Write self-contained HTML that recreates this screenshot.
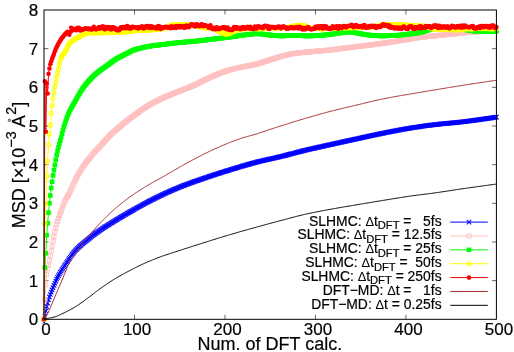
<!DOCTYPE html><html><head><meta charset="utf-8"><style>
html,body{margin:0;padding:0;background:#fff}
body{width:514px;height:352px;position:relative;overflow:hidden;font-family:"Liberation Sans",sans-serif;color:#000}
svg{display:block;will-change:transform}
</style></head><body>
<svg width="514" height="352" viewBox="0 0 514 352" style="position:absolute;left:0;top:0"><defs>
<g id="mb"><path d="M-2.2,-2.2L2.2,2.2M-2.2,2.2L2.2,-2.2" stroke="#0000ff" stroke-width="1.05" fill="none"/></g>
<g id="mp"><rect x="-2.05" y="-2.05" width="4.1" height="4.1" stroke="#ffc0c0" stroke-width="0.9" fill="none"/></g>
<g id="mg"><rect x="-2.3" y="-2.3" width="4.6" height="4.6" fill="#00ff00"/></g>
<g id="my"><circle r="2.0" stroke="#ffff00" stroke-width="1.1" fill="none"/></g>
<g id="mr"><circle r="2.3" fill="#ff0000"/></g>
</defs><path d="M134.48,319.3v-4.5M134.48,10.0v4.5M224.96,319.3v-4.5M224.96,10.0v4.5M315.44,319.3v-4.5M315.44,10.0v4.5M405.92,319.3v-4.5M405.92,10.0v4.5M44.0,280.64h4.5M496.4,280.64h-4.5M44.0,241.98h4.5M496.4,241.98h-4.5M44.0,203.31h4.5M496.4,203.31h-4.5M44.0,164.65h4.5M496.4,164.65h-4.5M44.0,125.99h4.5M496.4,125.99h-4.5M44.0,87.32h4.5M496.4,87.32h-4.5M44.0,48.66h4.5M496.4,48.66h-4.5" stroke="#000" stroke-width="0.6" fill="none"/><clipPath id="cp"><rect x="40.0" y="0" width="460.4" height="323.3"/></clipPath><g clip-path="url(#cp)"><polyline fill="none" stroke="#0000ff" stroke-width="1" points="44,322.45 44.9,316.33 45.81,310.98 46.71,306.61 47.62,302.87 48.52,299.75 49.43,297 50.33,294.5 51.24,292.16 52.14,289.89 53.05,287.63 53.95,285.41 54.86,283.25 55.76,281.17 56.67,279.19 57.57,277.33 58.48,275.61 59.38,273.98 60.29,272.43 61.19,270.95 62.1,269.52 63,268.13 63.91,266.76 64.81,265.41 65.72,264.05 66.62,262.68 67.52,261.31 68.43,259.94 69.33,258.58 70.24,257.24 71.14,255.94 72.05,254.68 72.95,253.47 73.86,252.33 74.76,251.27 75.67,250.27 76.57,249.32 77.48,248.41 78.38,247.53 79.29,246.68 80.19,245.86 81.1,245.06 82,244.28 82.91,243.52 83.81,242.77 84.72,242.03 85.62,241.29 86.53,240.55 87.43,239.81 88.34,239.07 89.24,238.33 90.14,237.61 91.05,236.89 91.95,236.18 92.86,235.48 93.76,234.79 94.67,234.1 95.57,233.43 96.48,232.76 97.38,232.1 98.29,231.46 99.19,230.81 100.1,230.18 101,229.56 101.91,228.95 102.81,228.35 103.72,227.75 104.62,227.17 105.53,226.59 106.43,226.02 107.34,225.45 108.24,224.88 109.15,224.32 110.05,223.76 110.96,223.2 111.86,222.65 112.76,222.09 113.67,221.53 114.57,220.97 115.48,220.42 116.38,219.87 117.29,219.32 118.19,218.77 119.1,218.23 120,217.69 120.91,217.15 121.81,216.61 122.72,216.07 123.62,215.54 124.53,215.01 125.43,214.48 126.34,213.96 127.24,213.44 128.15,212.92 129.05,212.4 129.96,211.88 130.86,211.36 131.77,210.84 132.67,210.33 133.58,209.81 134.48,209.3 135.38,208.79 136.29,208.28 137.19,207.77 138.1,207.26 139,206.75 139.91,206.25 140.81,205.75 141.72,205.25 142.62,204.75 143.53,204.26 144.43,203.77 145.34,203.28 146.24,202.8 147.15,202.32 148.05,201.84 148.96,201.37 149.86,200.9 150.77,200.43 151.67,199.97 152.58,199.51 153.48,199.06 154.39,198.61 155.29,198.16 156.2,197.71 157.1,197.27 158,196.83 158.91,196.39 159.81,195.95 160.72,195.52 161.62,195.08 162.53,194.66 163.43,194.23 164.34,193.8 165.24,193.38 166.15,192.97 167.05,192.55 167.96,192.14 168.86,191.73 169.77,191.32 170.67,190.92 171.58,190.52 172.48,190.13 173.39,189.74 174.29,189.35 175.2,188.97 176.1,188.59 177.01,188.21 177.91,187.84 178.82,187.47 179.72,187.1 180.62,186.74 181.53,186.38 182.43,186.03 183.34,185.68 184.24,185.33 185.15,184.99 186.05,184.64 186.96,184.3 187.86,183.97 188.77,183.63 189.67,183.3 190.58,182.97 191.48,182.64 192.39,182.32 193.29,181.99 194.2,181.67 195.1,181.35 196.01,181.03 196.91,180.71 197.82,180.4 198.72,180.08 199.63,179.77 200.53,179.45 201.44,179.14 202.34,178.83 203.24,178.52 204.15,178.21 205.05,177.9 205.96,177.59 206.86,177.28 207.77,176.98 208.67,176.68 209.58,176.37 210.48,176.07 211.39,175.78 212.29,175.48 213.2,175.18 214.1,174.89 215.01,174.59 215.91,174.3 216.82,174.01 217.72,173.72 218.63,173.43 219.53,173.15 220.44,172.86 221.34,172.57 222.25,172.29 223.15,172.01 224.06,171.72 224.96,171.44 225.86,171.16 226.77,170.88 227.67,170.6 228.58,170.32 229.48,170.04 230.39,169.76 231.29,169.48 232.2,169.21 233.1,168.93 234.01,168.65 234.91,168.37 235.82,168.1 236.72,167.82 237.63,167.54 238.53,167.27 239.44,166.99 240.34,166.72 241.25,166.45 242.15,166.18 243.06,165.91 243.96,165.65 244.87,165.38 245.77,165.12 246.68,164.86 247.58,164.6 248.48,164.34 249.39,164.08 250.29,163.83 251.2,163.58 252.1,163.33 253.01,163.09 253.91,162.85 254.82,162.61 255.72,162.37 256.63,162.14 257.53,161.91 258.44,161.68 259.34,161.46 260.25,161.24 261.15,161.03 262.06,160.82 262.96,160.61 263.87,160.4 264.77,160.19 265.68,159.99 266.58,159.78 267.49,159.58 268.39,159.38 269.3,159.18 270.2,158.98 271.1,158.77 272.01,158.57 272.91,158.37 273.82,158.17 274.72,157.97 275.63,157.76 276.53,157.55 277.44,157.34 278.34,157.13 279.25,156.92 280.15,156.7 281.06,156.49 281.96,156.26 282.87,156.04 283.77,155.81 284.68,155.58 285.58,155.35 286.49,155.12 287.39,154.89 288.3,154.65 289.2,154.42 290.11,154.18 291.01,153.94 291.92,153.7 292.82,153.47 293.72,153.23 294.63,152.99 295.53,152.75 296.44,152.51 297.34,152.28 298.25,152.04 299.15,151.81 300.06,151.58 300.96,151.34 301.87,151.12 302.77,150.89 303.68,150.66 304.58,150.44 305.49,150.22 306.39,150.01 307.3,149.79 308.2,149.58 309.11,149.37 310.01,149.16 310.92,148.95 311.82,148.74 312.73,148.54 313.63,148.33 314.54,148.13 315.44,147.93 316.34,147.72 317.25,147.52 318.15,147.32 319.06,147.12 319.96,146.92 320.87,146.73 321.77,146.53 322.68,146.33 323.58,146.13 324.49,145.93 325.39,145.73 326.3,145.54 327.2,145.34 328.11,145.14 329.01,144.94 329.92,144.74 330.82,144.54 331.73,144.34 332.63,144.14 333.54,143.94 334.44,143.74 335.35,143.54 336.25,143.34 337.16,143.14 338.06,142.94 338.96,142.74 339.87,142.54 340.77,142.34 341.68,142.14 342.58,141.94 343.49,141.74 344.39,141.54 345.3,141.34 346.2,141.14 347.11,140.94 348.01,140.74 348.92,140.54 349.82,140.35 350.73,140.15 351.63,139.95 352.54,139.75 353.44,139.56 354.35,139.36 355.25,139.16 356.16,138.97 357.06,138.77 357.97,138.57 358.87,138.37 359.78,138.18 360.68,137.98 361.58,137.78 362.49,137.58 363.39,137.38 364.3,137.18 365.2,136.98 366.11,136.79 367.01,136.59 367.92,136.39 368.82,136.19 369.73,135.99 370.63,135.8 371.54,135.6 372.44,135.41 373.35,135.21 374.25,135.02 375.16,134.82 376.06,134.63 376.97,134.44 377.87,134.25 378.78,134.06 379.68,133.88 380.59,133.69 381.49,133.5 382.4,133.32 383.3,133.14 384.2,132.96 385.11,132.78 386.01,132.6 386.92,132.42 387.82,132.24 388.73,132.06 389.63,131.89 390.54,131.71 391.44,131.53 392.35,131.35 393.25,131.18 394.16,131 395.06,130.83 395.97,130.66 396.87,130.49 397.78,130.31 398.68,130.15 399.59,129.98 400.49,129.81 401.4,129.65 402.3,129.48 403.21,129.32 404.11,129.16 405.02,129 405.92,128.84 406.82,128.69 407.73,128.54 408.63,128.38 409.54,128.24 410.44,128.09 411.35,127.94 412.25,127.8 413.16,127.66 414.06,127.52 414.97,127.38 415.87,127.24 416.78,127.1 417.68,126.97 418.59,126.83 419.49,126.7 420.4,126.56 421.3,126.43 422.21,126.3 423.11,126.17 424.02,126.04 424.92,125.92 425.83,125.79 426.73,125.67 427.64,125.55 428.54,125.43 429.44,125.31 430.35,125.19 431.25,125.08 432.16,124.96 433.06,124.85 433.97,124.74 434.87,124.63 435.78,124.53 436.68,124.42 437.59,124.32 438.49,124.22 439.4,124.12 440.3,124.03 441.21,123.94 442.11,123.85 443.02,123.76 443.92,123.67 444.83,123.59 445.73,123.5 446.64,123.42 447.54,123.33 448.45,123.25 449.35,123.17 450.26,123.08 451.16,123 452.06,122.92 452.97,122.83 453.87,122.74 454.78,122.66 455.68,122.57 456.59,122.48 457.49,122.38 458.4,122.29 459.3,122.19 460.21,122.09 461.11,121.99 462.02,121.88 462.92,121.78 463.83,121.67 464.73,121.56 465.64,121.45 466.54,121.34 467.45,121.23 468.35,121.12 469.26,121 470.16,120.89 471.07,120.77 471.97,120.66 472.88,120.54 473.78,120.42 474.68,120.3 475.59,120.18 476.49,120.05 477.4,119.93 478.3,119.81 479.21,119.68 480.11,119.55 481.02,119.43 481.92,119.3 482.83,119.17 483.73,119.04 484.64,118.91 485.54,118.77 486.45,118.64 487.35,118.5 488.26,118.37 489.16,118.23 490.07,118.09 490.97,117.95 491.88,117.81 492.78,117.67 493.69,117.53 494.59,117.39 495.5,117.24 496.4,117.1"/><use href="#mb" x="44" y="322.45"/><use href="#mb" x="44.9" y="316.33"/><use href="#mb" x="45.81" y="310.98"/><use href="#mb" x="46.71" y="306.61"/><use href="#mb" x="47.62" y="302.87"/><use href="#mb" x="48.52" y="299.75"/><use href="#mb" x="49.43" y="297"/><use href="#mb" x="50.33" y="294.5"/><use href="#mb" x="51.24" y="292.16"/><use href="#mb" x="52.14" y="289.89"/><use href="#mb" x="53.05" y="287.63"/><use href="#mb" x="53.95" y="285.41"/><use href="#mb" x="54.86" y="283.25"/><use href="#mb" x="55.76" y="281.17"/><use href="#mb" x="56.67" y="279.19"/><use href="#mb" x="57.57" y="277.33"/><use href="#mb" x="58.48" y="275.61"/><use href="#mb" x="59.38" y="273.98"/><use href="#mb" x="60.29" y="272.43"/><use href="#mb" x="61.19" y="270.95"/><use href="#mb" x="62.1" y="269.52"/><use href="#mb" x="63" y="268.13"/><use href="#mb" x="63.91" y="266.76"/><use href="#mb" x="64.81" y="265.41"/><use href="#mb" x="65.72" y="264.05"/><use href="#mb" x="66.62" y="262.68"/><use href="#mb" x="67.52" y="261.31"/><use href="#mb" x="68.43" y="259.94"/><use href="#mb" x="69.33" y="258.58"/><use href="#mb" x="70.24" y="257.24"/><use href="#mb" x="71.14" y="255.94"/><use href="#mb" x="72.05" y="254.68"/><use href="#mb" x="72.95" y="253.47"/><use href="#mb" x="73.86" y="252.33"/><use href="#mb" x="74.76" y="251.27"/><use href="#mb" x="75.67" y="250.27"/><use href="#mb" x="76.57" y="249.32"/><use href="#mb" x="77.48" y="248.41"/><use href="#mb" x="78.38" y="247.53"/><use href="#mb" x="79.29" y="246.68"/><use href="#mb" x="80.19" y="245.86"/><use href="#mb" x="81.1" y="245.06"/><use href="#mb" x="82" y="244.28"/><use href="#mb" x="82.91" y="243.52"/><use href="#mb" x="83.81" y="242.77"/><use href="#mb" x="84.72" y="242.03"/><use href="#mb" x="85.62" y="241.29"/><use href="#mb" x="86.53" y="240.55"/><use href="#mb" x="87.43" y="239.81"/><use href="#mb" x="88.34" y="239.07"/><use href="#mb" x="89.24" y="238.33"/><use href="#mb" x="90.14" y="237.61"/><use href="#mb" x="91.05" y="236.89"/><use href="#mb" x="91.95" y="236.18"/><use href="#mb" x="92.86" y="235.48"/><use href="#mb" x="93.76" y="234.79"/><use href="#mb" x="94.67" y="234.1"/><use href="#mb" x="95.57" y="233.43"/><use href="#mb" x="96.48" y="232.76"/><use href="#mb" x="97.38" y="232.1"/><use href="#mb" x="98.29" y="231.46"/><use href="#mb" x="99.19" y="230.81"/><use href="#mb" x="100.1" y="230.18"/><use href="#mb" x="101" y="229.56"/><use href="#mb" x="101.91" y="228.95"/><use href="#mb" x="102.81" y="228.35"/><use href="#mb" x="103.72" y="227.75"/><use href="#mb" x="104.62" y="227.17"/><use href="#mb" x="105.53" y="226.59"/><use href="#mb" x="106.43" y="226.02"/><use href="#mb" x="107.34" y="225.45"/><use href="#mb" x="108.24" y="224.88"/><use href="#mb" x="109.15" y="224.32"/><use href="#mb" x="110.05" y="223.76"/><use href="#mb" x="110.96" y="223.2"/><use href="#mb" x="111.86" y="222.65"/><use href="#mb" x="112.76" y="222.09"/><use href="#mb" x="113.67" y="221.53"/><use href="#mb" x="114.57" y="220.97"/><use href="#mb" x="115.48" y="220.42"/><use href="#mb" x="116.38" y="219.87"/><use href="#mb" x="117.29" y="219.32"/><use href="#mb" x="118.19" y="218.77"/><use href="#mb" x="119.1" y="218.23"/><use href="#mb" x="120" y="217.69"/><use href="#mb" x="120.91" y="217.15"/><use href="#mb" x="121.81" y="216.61"/><use href="#mb" x="122.72" y="216.07"/><use href="#mb" x="123.62" y="215.54"/><use href="#mb" x="124.53" y="215.01"/><use href="#mb" x="125.43" y="214.48"/><use href="#mb" x="126.34" y="213.96"/><use href="#mb" x="127.24" y="213.44"/><use href="#mb" x="128.15" y="212.92"/><use href="#mb" x="129.05" y="212.4"/><use href="#mb" x="129.96" y="211.88"/><use href="#mb" x="130.86" y="211.36"/><use href="#mb" x="131.77" y="210.84"/><use href="#mb" x="132.67" y="210.33"/><use href="#mb" x="133.58" y="209.81"/><use href="#mb" x="134.48" y="209.3"/><use href="#mb" x="135.38" y="208.79"/><use href="#mb" x="136.29" y="208.28"/><use href="#mb" x="137.19" y="207.77"/><use href="#mb" x="138.1" y="207.26"/><use href="#mb" x="139" y="206.75"/><use href="#mb" x="139.91" y="206.25"/><use href="#mb" x="140.81" y="205.75"/><use href="#mb" x="141.72" y="205.25"/><use href="#mb" x="142.62" y="204.75"/><use href="#mb" x="143.53" y="204.26"/><use href="#mb" x="144.43" y="203.77"/><use href="#mb" x="145.34" y="203.28"/><use href="#mb" x="146.24" y="202.8"/><use href="#mb" x="147.15" y="202.32"/><use href="#mb" x="148.05" y="201.84"/><use href="#mb" x="148.96" y="201.37"/><use href="#mb" x="149.86" y="200.9"/><use href="#mb" x="150.77" y="200.43"/><use href="#mb" x="151.67" y="199.97"/><use href="#mb" x="152.58" y="199.51"/><use href="#mb" x="153.48" y="199.06"/><use href="#mb" x="154.39" y="198.61"/><use href="#mb" x="155.29" y="198.16"/><use href="#mb" x="156.2" y="197.71"/><use href="#mb" x="157.1" y="197.27"/><use href="#mb" x="158" y="196.83"/><use href="#mb" x="158.91" y="196.39"/><use href="#mb" x="159.81" y="195.95"/><use href="#mb" x="160.72" y="195.52"/><use href="#mb" x="161.62" y="195.08"/><use href="#mb" x="162.53" y="194.66"/><use href="#mb" x="163.43" y="194.23"/><use href="#mb" x="164.34" y="193.8"/><use href="#mb" x="165.24" y="193.38"/><use href="#mb" x="166.15" y="192.97"/><use href="#mb" x="167.05" y="192.55"/><use href="#mb" x="167.96" y="192.14"/><use href="#mb" x="168.86" y="191.73"/><use href="#mb" x="169.77" y="191.32"/><use href="#mb" x="170.67" y="190.92"/><use href="#mb" x="171.58" y="190.52"/><use href="#mb" x="172.48" y="190.13"/><use href="#mb" x="173.39" y="189.74"/><use href="#mb" x="174.29" y="189.35"/><use href="#mb" x="175.2" y="188.97"/><use href="#mb" x="176.1" y="188.59"/><use href="#mb" x="177.01" y="188.21"/><use href="#mb" x="177.91" y="187.84"/><use href="#mb" x="178.82" y="187.47"/><use href="#mb" x="179.72" y="187.1"/><use href="#mb" x="180.62" y="186.74"/><use href="#mb" x="181.53" y="186.38"/><use href="#mb" x="182.43" y="186.03"/><use href="#mb" x="183.34" y="185.68"/><use href="#mb" x="184.24" y="185.33"/><use href="#mb" x="185.15" y="184.99"/><use href="#mb" x="186.05" y="184.64"/><use href="#mb" x="186.96" y="184.3"/><use href="#mb" x="187.86" y="183.97"/><use href="#mb" x="188.77" y="183.63"/><use href="#mb" x="189.67" y="183.3"/><use href="#mb" x="190.58" y="182.97"/><use href="#mb" x="191.48" y="182.64"/><use href="#mb" x="192.39" y="182.32"/><use href="#mb" x="193.29" y="181.99"/><use href="#mb" x="194.2" y="181.67"/><use href="#mb" x="195.1" y="181.35"/><use href="#mb" x="196.01" y="181.03"/><use href="#mb" x="196.91" y="180.71"/><use href="#mb" x="197.82" y="180.4"/><use href="#mb" x="198.72" y="180.08"/><use href="#mb" x="199.63" y="179.77"/><use href="#mb" x="200.53" y="179.45"/><use href="#mb" x="201.44" y="179.14"/><use href="#mb" x="202.34" y="178.83"/><use href="#mb" x="203.24" y="178.52"/><use href="#mb" x="204.15" y="178.21"/><use href="#mb" x="205.05" y="177.9"/><use href="#mb" x="205.96" y="177.59"/><use href="#mb" x="206.86" y="177.28"/><use href="#mb" x="207.77" y="176.98"/><use href="#mb" x="208.67" y="176.68"/><use href="#mb" x="209.58" y="176.37"/><use href="#mb" x="210.48" y="176.07"/><use href="#mb" x="211.39" y="175.78"/><use href="#mb" x="212.29" y="175.48"/><use href="#mb" x="213.2" y="175.18"/><use href="#mb" x="214.1" y="174.89"/><use href="#mb" x="215.01" y="174.59"/><use href="#mb" x="215.91" y="174.3"/><use href="#mb" x="216.82" y="174.01"/><use href="#mb" x="217.72" y="173.72"/><use href="#mb" x="218.63" y="173.43"/><use href="#mb" x="219.53" y="173.15"/><use href="#mb" x="220.44" y="172.86"/><use href="#mb" x="221.34" y="172.57"/><use href="#mb" x="222.25" y="172.29"/><use href="#mb" x="223.15" y="172.01"/><use href="#mb" x="224.06" y="171.72"/><use href="#mb" x="224.96" y="171.44"/><use href="#mb" x="225.86" y="171.16"/><use href="#mb" x="226.77" y="170.88"/><use href="#mb" x="227.67" y="170.6"/><use href="#mb" x="228.58" y="170.32"/><use href="#mb" x="229.48" y="170.04"/><use href="#mb" x="230.39" y="169.76"/><use href="#mb" x="231.29" y="169.48"/><use href="#mb" x="232.2" y="169.21"/><use href="#mb" x="233.1" y="168.93"/><use href="#mb" x="234.01" y="168.65"/><use href="#mb" x="234.91" y="168.37"/><use href="#mb" x="235.82" y="168.1"/><use href="#mb" x="236.72" y="167.82"/><use href="#mb" x="237.63" y="167.54"/><use href="#mb" x="238.53" y="167.27"/><use href="#mb" x="239.44" y="166.99"/><use href="#mb" x="240.34" y="166.72"/><use href="#mb" x="241.25" y="166.45"/><use href="#mb" x="242.15" y="166.18"/><use href="#mb" x="243.06" y="165.91"/><use href="#mb" x="243.96" y="165.65"/><use href="#mb" x="244.87" y="165.38"/><use href="#mb" x="245.77" y="165.12"/><use href="#mb" x="246.68" y="164.86"/><use href="#mb" x="247.58" y="164.6"/><use href="#mb" x="248.48" y="164.34"/><use href="#mb" x="249.39" y="164.08"/><use href="#mb" x="250.29" y="163.83"/><use href="#mb" x="251.2" y="163.58"/><use href="#mb" x="252.1" y="163.33"/><use href="#mb" x="253.01" y="163.09"/><use href="#mb" x="253.91" y="162.85"/><use href="#mb" x="254.82" y="162.61"/><use href="#mb" x="255.72" y="162.37"/><use href="#mb" x="256.63" y="162.14"/><use href="#mb" x="257.53" y="161.91"/><use href="#mb" x="258.44" y="161.68"/><use href="#mb" x="259.34" y="161.46"/><use href="#mb" x="260.25" y="161.24"/><use href="#mb" x="261.15" y="161.03"/><use href="#mb" x="262.06" y="160.82"/><use href="#mb" x="262.96" y="160.61"/><use href="#mb" x="263.87" y="160.4"/><use href="#mb" x="264.77" y="160.19"/><use href="#mb" x="265.68" y="159.99"/><use href="#mb" x="266.58" y="159.78"/><use href="#mb" x="267.49" y="159.58"/><use href="#mb" x="268.39" y="159.38"/><use href="#mb" x="269.3" y="159.18"/><use href="#mb" x="270.2" y="158.98"/><use href="#mb" x="271.1" y="158.77"/><use href="#mb" x="272.01" y="158.57"/><use href="#mb" x="272.91" y="158.37"/><use href="#mb" x="273.82" y="158.17"/><use href="#mb" x="274.72" y="157.97"/><use href="#mb" x="275.63" y="157.76"/><use href="#mb" x="276.53" y="157.55"/><use href="#mb" x="277.44" y="157.34"/><use href="#mb" x="278.34" y="157.13"/><use href="#mb" x="279.25" y="156.92"/><use href="#mb" x="280.15" y="156.7"/><use href="#mb" x="281.06" y="156.49"/><use href="#mb" x="281.96" y="156.26"/><use href="#mb" x="282.87" y="156.04"/><use href="#mb" x="283.77" y="155.81"/><use href="#mb" x="284.68" y="155.58"/><use href="#mb" x="285.58" y="155.35"/><use href="#mb" x="286.49" y="155.12"/><use href="#mb" x="287.39" y="154.89"/><use href="#mb" x="288.3" y="154.65"/><use href="#mb" x="289.2" y="154.42"/><use href="#mb" x="290.11" y="154.18"/><use href="#mb" x="291.01" y="153.94"/><use href="#mb" x="291.92" y="153.7"/><use href="#mb" x="292.82" y="153.47"/><use href="#mb" x="293.72" y="153.23"/><use href="#mb" x="294.63" y="152.99"/><use href="#mb" x="295.53" y="152.75"/><use href="#mb" x="296.44" y="152.51"/><use href="#mb" x="297.34" y="152.28"/><use href="#mb" x="298.25" y="152.04"/><use href="#mb" x="299.15" y="151.81"/><use href="#mb" x="300.06" y="151.58"/><use href="#mb" x="300.96" y="151.34"/><use href="#mb" x="301.87" y="151.12"/><use href="#mb" x="302.77" y="150.89"/><use href="#mb" x="303.68" y="150.66"/><use href="#mb" x="304.58" y="150.44"/><use href="#mb" x="305.49" y="150.22"/><use href="#mb" x="306.39" y="150.01"/><use href="#mb" x="307.3" y="149.79"/><use href="#mb" x="308.2" y="149.58"/><use href="#mb" x="309.11" y="149.37"/><use href="#mb" x="310.01" y="149.16"/><use href="#mb" x="310.92" y="148.95"/><use href="#mb" x="311.82" y="148.74"/><use href="#mb" x="312.73" y="148.54"/><use href="#mb" x="313.63" y="148.33"/><use href="#mb" x="314.54" y="148.13"/><use href="#mb" x="315.44" y="147.93"/><use href="#mb" x="316.34" y="147.72"/><use href="#mb" x="317.25" y="147.52"/><use href="#mb" x="318.15" y="147.32"/><use href="#mb" x="319.06" y="147.12"/><use href="#mb" x="319.96" y="146.92"/><use href="#mb" x="320.87" y="146.73"/><use href="#mb" x="321.77" y="146.53"/><use href="#mb" x="322.68" y="146.33"/><use href="#mb" x="323.58" y="146.13"/><use href="#mb" x="324.49" y="145.93"/><use href="#mb" x="325.39" y="145.73"/><use href="#mb" x="326.3" y="145.54"/><use href="#mb" x="327.2" y="145.34"/><use href="#mb" x="328.11" y="145.14"/><use href="#mb" x="329.01" y="144.94"/><use href="#mb" x="329.92" y="144.74"/><use href="#mb" x="330.82" y="144.54"/><use href="#mb" x="331.73" y="144.34"/><use href="#mb" x="332.63" y="144.14"/><use href="#mb" x="333.54" y="143.94"/><use href="#mb" x="334.44" y="143.74"/><use href="#mb" x="335.35" y="143.54"/><use href="#mb" x="336.25" y="143.34"/><use href="#mb" x="337.16" y="143.14"/><use href="#mb" x="338.06" y="142.94"/><use href="#mb" x="338.96" y="142.74"/><use href="#mb" x="339.87" y="142.54"/><use href="#mb" x="340.77" y="142.34"/><use href="#mb" x="341.68" y="142.14"/><use href="#mb" x="342.58" y="141.94"/><use href="#mb" x="343.49" y="141.74"/><use href="#mb" x="344.39" y="141.54"/><use href="#mb" x="345.3" y="141.34"/><use href="#mb" x="346.2" y="141.14"/><use href="#mb" x="347.11" y="140.94"/><use href="#mb" x="348.01" y="140.74"/><use href="#mb" x="348.92" y="140.54"/><use href="#mb" x="349.82" y="140.35"/><use href="#mb" x="350.73" y="140.15"/><use href="#mb" x="351.63" y="139.95"/><use href="#mb" x="352.54" y="139.75"/><use href="#mb" x="353.44" y="139.56"/><use href="#mb" x="354.35" y="139.36"/><use href="#mb" x="355.25" y="139.16"/><use href="#mb" x="356.16" y="138.97"/><use href="#mb" x="357.06" y="138.77"/><use href="#mb" x="357.97" y="138.57"/><use href="#mb" x="358.87" y="138.37"/><use href="#mb" x="359.78" y="138.18"/><use href="#mb" x="360.68" y="137.98"/><use href="#mb" x="361.58" y="137.78"/><use href="#mb" x="362.49" y="137.58"/><use href="#mb" x="363.39" y="137.38"/><use href="#mb" x="364.3" y="137.18"/><use href="#mb" x="365.2" y="136.98"/><use href="#mb" x="366.11" y="136.79"/><use href="#mb" x="367.01" y="136.59"/><use href="#mb" x="367.92" y="136.39"/><use href="#mb" x="368.82" y="136.19"/><use href="#mb" x="369.73" y="135.99"/><use href="#mb" x="370.63" y="135.8"/><use href="#mb" x="371.54" y="135.6"/><use href="#mb" x="372.44" y="135.41"/><use href="#mb" x="373.35" y="135.21"/><use href="#mb" x="374.25" y="135.02"/><use href="#mb" x="375.16" y="134.82"/><use href="#mb" x="376.06" y="134.63"/><use href="#mb" x="376.97" y="134.44"/><use href="#mb" x="377.87" y="134.25"/><use href="#mb" x="378.78" y="134.06"/><use href="#mb" x="379.68" y="133.88"/><use href="#mb" x="380.59" y="133.69"/><use href="#mb" x="381.49" y="133.5"/><use href="#mb" x="382.4" y="133.32"/><use href="#mb" x="383.3" y="133.14"/><use href="#mb" x="384.2" y="132.96"/><use href="#mb" x="385.11" y="132.78"/><use href="#mb" x="386.01" y="132.6"/><use href="#mb" x="386.92" y="132.42"/><use href="#mb" x="387.82" y="132.24"/><use href="#mb" x="388.73" y="132.06"/><use href="#mb" x="389.63" y="131.89"/><use href="#mb" x="390.54" y="131.71"/><use href="#mb" x="391.44" y="131.53"/><use href="#mb" x="392.35" y="131.35"/><use href="#mb" x="393.25" y="131.18"/><use href="#mb" x="394.16" y="131"/><use href="#mb" x="395.06" y="130.83"/><use href="#mb" x="395.97" y="130.66"/><use href="#mb" x="396.87" y="130.49"/><use href="#mb" x="397.78" y="130.31"/><use href="#mb" x="398.68" y="130.15"/><use href="#mb" x="399.59" y="129.98"/><use href="#mb" x="400.49" y="129.81"/><use href="#mb" x="401.4" y="129.65"/><use href="#mb" x="402.3" y="129.48"/><use href="#mb" x="403.21" y="129.32"/><use href="#mb" x="404.11" y="129.16"/><use href="#mb" x="405.02" y="129"/><use href="#mb" x="405.92" y="128.84"/><use href="#mb" x="406.82" y="128.69"/><use href="#mb" x="407.73" y="128.54"/><use href="#mb" x="408.63" y="128.38"/><use href="#mb" x="409.54" y="128.24"/><use href="#mb" x="410.44" y="128.09"/><use href="#mb" x="411.35" y="127.94"/><use href="#mb" x="412.25" y="127.8"/><use href="#mb" x="413.16" y="127.66"/><use href="#mb" x="414.06" y="127.52"/><use href="#mb" x="414.97" y="127.38"/><use href="#mb" x="415.87" y="127.24"/><use href="#mb" x="416.78" y="127.1"/><use href="#mb" x="417.68" y="126.97"/><use href="#mb" x="418.59" y="126.83"/><use href="#mb" x="419.49" y="126.7"/><use href="#mb" x="420.4" y="126.56"/><use href="#mb" x="421.3" y="126.43"/><use href="#mb" x="422.21" y="126.3"/><use href="#mb" x="423.11" y="126.17"/><use href="#mb" x="424.02" y="126.04"/><use href="#mb" x="424.92" y="125.92"/><use href="#mb" x="425.83" y="125.79"/><use href="#mb" x="426.73" y="125.67"/><use href="#mb" x="427.64" y="125.55"/><use href="#mb" x="428.54" y="125.43"/><use href="#mb" x="429.44" y="125.31"/><use href="#mb" x="430.35" y="125.19"/><use href="#mb" x="431.25" y="125.08"/><use href="#mb" x="432.16" y="124.96"/><use href="#mb" x="433.06" y="124.85"/><use href="#mb" x="433.97" y="124.74"/><use href="#mb" x="434.87" y="124.63"/><use href="#mb" x="435.78" y="124.53"/><use href="#mb" x="436.68" y="124.42"/><use href="#mb" x="437.59" y="124.32"/><use href="#mb" x="438.49" y="124.22"/><use href="#mb" x="439.4" y="124.12"/><use href="#mb" x="440.3" y="124.03"/><use href="#mb" x="441.21" y="123.94"/><use href="#mb" x="442.11" y="123.85"/><use href="#mb" x="443.02" y="123.76"/><use href="#mb" x="443.92" y="123.67"/><use href="#mb" x="444.83" y="123.59"/><use href="#mb" x="445.73" y="123.5"/><use href="#mb" x="446.64" y="123.42"/><use href="#mb" x="447.54" y="123.33"/><use href="#mb" x="448.45" y="123.25"/><use href="#mb" x="449.35" y="123.17"/><use href="#mb" x="450.26" y="123.08"/><use href="#mb" x="451.16" y="123"/><use href="#mb" x="452.06" y="122.92"/><use href="#mb" x="452.97" y="122.83"/><use href="#mb" x="453.87" y="122.74"/><use href="#mb" x="454.78" y="122.66"/><use href="#mb" x="455.68" y="122.57"/><use href="#mb" x="456.59" y="122.48"/><use href="#mb" x="457.49" y="122.38"/><use href="#mb" x="458.4" y="122.29"/><use href="#mb" x="459.3" y="122.19"/><use href="#mb" x="460.21" y="122.09"/><use href="#mb" x="461.11" y="121.99"/><use href="#mb" x="462.02" y="121.88"/><use href="#mb" x="462.92" y="121.78"/><use href="#mb" x="463.83" y="121.67"/><use href="#mb" x="464.73" y="121.56"/><use href="#mb" x="465.64" y="121.45"/><use href="#mb" x="466.54" y="121.34"/><use href="#mb" x="467.45" y="121.23"/><use href="#mb" x="468.35" y="121.12"/><use href="#mb" x="469.26" y="121"/><use href="#mb" x="470.16" y="120.89"/><use href="#mb" x="471.07" y="120.77"/><use href="#mb" x="471.97" y="120.66"/><use href="#mb" x="472.88" y="120.54"/><use href="#mb" x="473.78" y="120.42"/><use href="#mb" x="474.68" y="120.3"/><use href="#mb" x="475.59" y="120.18"/><use href="#mb" x="476.49" y="120.05"/><use href="#mb" x="477.4" y="119.93"/><use href="#mb" x="478.3" y="119.81"/><use href="#mb" x="479.21" y="119.68"/><use href="#mb" x="480.11" y="119.55"/><use href="#mb" x="481.02" y="119.43"/><use href="#mb" x="481.92" y="119.3"/><use href="#mb" x="482.83" y="119.17"/><use href="#mb" x="483.73" y="119.04"/><use href="#mb" x="484.64" y="118.91"/><use href="#mb" x="485.54" y="118.77"/><use href="#mb" x="486.45" y="118.64"/><use href="#mb" x="487.35" y="118.5"/><use href="#mb" x="488.26" y="118.37"/><use href="#mb" x="489.16" y="118.23"/><use href="#mb" x="490.07" y="118.09"/><use href="#mb" x="490.97" y="117.95"/><use href="#mb" x="491.88" y="117.81"/><use href="#mb" x="492.78" y="117.67"/><use href="#mb" x="493.69" y="117.53"/><use href="#mb" x="494.59" y="117.39"/><use href="#mb" x="495.5" y="117.24"/><use href="#mb" x="496.4" y="117.1"/><polyline fill="none" stroke="#ffc0c0" stroke-width="1" points="44,319.2 44.9,299.91 45.81,284.87 46.71,274.27 47.62,268.68 48.52,265.03 49.43,260.61 50.33,255.88 51.24,251.06 52.14,246.12 53.05,241.14 53.95,236.5 54.86,232.1 55.76,227.98 56.67,224.38 57.57,221.22 58.48,218.34 59.38,215.66 60.29,213.1 61.19,210.59 62.1,208.14 63,205.79 63.91,203.56 64.81,201.48 65.72,199.57 66.62,197.9 67.52,196.37 68.43,194.82 69.33,193.08 70.24,191.17 71.14,189.2 72.05,187.26 72.95,185.31 73.86,183.33 74.76,181.35 75.67,179.41 76.57,177.55 77.48,175.81 78.38,174.19 79.29,172.64 80.19,171.14 81.1,169.7 82,168.3 82.91,166.95 83.81,165.63 84.72,164.35 85.62,163.1 86.53,161.87 87.43,160.67 88.34,159.51 89.24,158.36 90.14,157.25 91.05,156.15 91.95,155.08 92.86,154.02 93.76,152.98 94.67,151.95 95.57,150.94 96.48,149.95 97.38,148.99 98.29,148.06 99.19,147.14 100.1,146.21 101,145.24 101.91,144.25 102.81,143.23 103.72,142.21 104.62,141.18 105.53,140.16 106.43,139.16 107.34,138.2 108.24,137.26 109.15,136.34 110.05,135.43 110.96,134.53 111.86,133.65 112.76,132.79 113.67,131.95 114.57,131.13 115.48,130.32 116.38,129.53 117.29,128.74 118.19,127.97 119.1,127.21 120,126.45 120.91,125.69 121.81,124.94 122.72,124.2 123.62,123.46 124.53,122.72 125.43,122 126.34,121.28 127.24,120.57 128.15,119.86 129.05,119.17 129.96,118.49 130.86,117.82 131.77,117.16 132.67,116.51 133.58,115.86 134.48,115.21 135.38,114.55 136.29,113.9 137.19,113.23 138.1,112.55 139,111.86 139.91,111.17 140.81,110.49 141.72,109.84 142.62,109.22 143.53,108.62 144.43,108.02 145.34,107.44 146.24,106.86 147.15,106.3 148.05,105.74 148.96,105.2 149.86,104.66 150.77,104.13 151.67,103.62 152.58,103.11 153.48,102.61 154.39,102.13 155.29,101.65 156.2,101.18 157.1,100.72 158,100.27 158.91,99.83 159.81,99.4 160.72,98.97 161.62,98.55 162.53,98.14 163.43,97.73 164.34,97.33 165.24,96.93 166.15,96.54 167.05,96.14 167.96,95.75 168.86,95.37 169.77,95 170.67,94.63 171.58,94.26 172.48,93.9 173.39,93.55 174.29,93.19 175.2,92.84 176.1,92.49 177.01,92.13 177.91,91.78 178.82,91.42 179.72,91.06 180.62,90.7 181.53,90.34 182.43,89.99 183.34,89.64 184.24,89.29 185.15,88.94 186.05,88.59 186.96,88.24 187.86,87.88 188.77,87.52 189.67,87.16 190.58,86.78 191.48,86.4 192.39,86.02 193.29,85.62 194.2,85.21 195.1,84.78 196.01,84.33 196.91,83.86 197.82,83.38 198.72,82.9 199.63,82.42 200.53,81.94 201.44,81.48 202.34,81.03 203.24,80.59 204.15,80.16 205.05,79.73 205.96,79.3 206.86,78.88 207.77,78.46 208.67,78.05 209.58,77.64 210.48,77.23 211.39,76.83 212.29,76.44 213.2,76.05 214.1,75.67 215.01,75.3 215.91,74.93 216.82,74.55 217.72,74.18 218.63,73.82 219.53,73.45 220.44,73.1 221.34,72.75 222.25,72.4 223.15,72.06 224.06,71.74 224.96,71.42 225.86,71.12 226.77,70.83 227.67,70.55 228.58,70.28 229.48,70.02 230.39,69.77 231.29,69.53 232.2,69.29 233.1,69.06 234.01,68.84 234.91,68.62 235.82,68.4 236.72,68.19 237.63,67.98 238.53,67.78 239.44,67.57 240.34,67.38 241.25,67.18 242.15,67 243.06,66.82 243.96,66.65 244.87,66.48 245.77,66.32 246.68,66.15 247.58,65.99 248.48,65.82 249.39,65.66 250.29,65.48 251.2,65.3 252.1,65.12 253.01,64.92 253.91,64.72 254.82,64.5 255.72,64.28 256.63,64.04 257.53,63.79 258.44,63.54 259.34,63.28 260.25,63.01 261.15,62.72 262.06,62.42 262.96,62.13 263.87,61.83 264.77,61.53 265.68,61.24 266.58,60.95 267.49,60.66 268.39,60.38 269.3,60.09 270.2,59.81 271.1,59.52 272.01,59.22 272.91,58.93 273.82,58.64 274.72,58.35 275.63,58.07 276.53,57.78 277.44,57.51 278.34,57.23 279.25,56.97 280.15,56.71 281.06,56.46 281.96,56.21 282.87,55.96 283.77,55.72 284.68,55.47 285.58,55.23 286.49,54.99 287.39,54.77 288.3,54.55 289.2,54.34 290.11,54.15 291.01,53.97 291.92,53.81 292.82,53.67 293.72,53.53 294.63,53.4 295.53,53.28 296.44,53.16 297.34,53.04 298.25,52.93 299.15,52.83 300.06,52.73 300.96,52.65 301.87,52.57 302.77,52.49 303.68,52.41 304.58,52.33 305.49,52.24 306.39,52.16 307.3,52.07 308.2,51.99 309.11,51.91 310.01,51.83 310.92,51.75 311.82,51.67 312.73,51.6 313.63,51.52 314.54,51.44 315.44,51.37 316.34,51.29 317.25,51.21 318.15,51.13 319.06,51.06 319.96,50.98 320.87,50.89 321.77,50.81 322.68,50.73 323.58,50.64 324.49,50.55 325.39,50.46 326.3,50.37 327.2,50.27 328.11,50.17 329.01,50.07 329.92,49.96 330.82,49.85 331.73,49.74 332.63,49.63 333.54,49.52 334.44,49.41 335.35,49.29 336.25,49.18 337.16,49.06 338.06,48.95 338.96,48.83 339.87,48.72 340.77,48.61 341.68,48.5 342.58,48.39 343.49,48.28 344.39,48.17 345.3,48.06 346.2,47.94 347.11,47.83 348.01,47.72 348.92,47.61 349.82,47.5 350.73,47.39 351.63,47.28 352.54,47.17 353.44,47.06 354.35,46.95 355.25,46.84 356.16,46.72 357.06,46.61 357.97,46.5 358.87,46.39 359.78,46.28 360.68,46.17 361.58,46.06 362.49,45.95 363.39,45.84 364.3,45.73 365.2,45.62 366.11,45.51 367.01,45.39 367.92,45.28 368.82,45.17 369.73,45.05 370.63,44.94 371.54,44.82 372.44,44.7 373.35,44.58 374.25,44.46 375.16,44.34 376.06,44.22 376.97,44.1 377.87,43.98 378.78,43.86 379.68,43.74 380.59,43.61 381.49,43.49 382.4,43.36 383.3,43.24 384.2,43.11 385.11,42.98 386.01,42.85 386.92,42.72 387.82,42.59 388.73,42.46 389.63,42.33 390.54,42.19 391.44,42.05 392.35,41.91 393.25,41.77 394.16,41.63 395.06,41.49 395.97,41.34 396.87,41.19 397.78,41.05 398.68,40.9 399.59,40.75 400.49,40.6 401.4,40.45 402.3,40.3 403.21,40.15 404.11,40 405.02,39.85 405.92,39.71 406.82,39.56 407.73,39.4 408.63,39.25 409.54,39.09 410.44,38.93 411.35,38.77 412.25,38.61 413.16,38.45 414.06,38.29 414.97,38.14 415.87,37.99 416.78,37.84 417.68,37.7 418.59,37.57 419.49,37.45 420.4,37.33 421.3,37.21 422.21,37.1 423.11,37 424.02,36.9 424.92,36.8 425.83,36.7 426.73,36.61 427.64,36.51 428.54,36.42 429.44,36.33 430.35,36.24 431.25,36.15 432.16,36.07 433.06,35.98 433.97,35.89 434.87,35.8 435.78,35.71 436.68,35.62 437.59,35.53 438.49,35.44 439.4,35.35 440.3,35.26 441.21,35.17 442.11,35.08 443.02,35 443.92,34.91 444.83,34.82 445.73,34.73 446.64,34.65 447.54,34.56 448.45,34.47 449.35,34.38 450.26,34.3 451.16,34.21 452.06,34.12 452.97,34.02 453.87,33.93 454.78,33.84 455.68,33.74 456.59,33.64 457.49,33.54 458.4,33.44 459.3,33.34 460.21,33.24 461.11,33.13 462.02,33.04 462.92,32.94 463.83,32.84 464.73,32.75 465.64,32.67 466.54,32.58 467.45,32.5 468.35,32.42 469.26,32.34 470.16,32.26 471.07,32.19 471.97,32.11 472.88,32.04 473.78,31.96 474.68,31.89 475.59,31.82 476.49,31.75 477.4,31.68 478.3,31.61 479.21,31.55 480.11,31.48 481.02,31.41 481.92,31.35 482.83,31.29 483.73,31.22 484.64,31.16 485.54,31.1 486.45,31.03 487.35,30.97 488.26,30.91 489.16,30.85 490.07,30.79 490.97,30.74 491.88,30.68 492.78,30.62 493.69,30.57 494.59,30.51 495.5,30.46 496.4,30.41"/><use href="#mp" x="44" y="319.2"/><use href="#mp" x="44.9" y="299.91"/><use href="#mp" x="45.81" y="284.87"/><use href="#mp" x="46.71" y="274.27"/><use href="#mp" x="47.62" y="268.68"/><use href="#mp" x="48.52" y="265.03"/><use href="#mp" x="49.43" y="260.61"/><use href="#mp" x="50.33" y="255.88"/><use href="#mp" x="51.24" y="251.06"/><use href="#mp" x="52.14" y="246.12"/><use href="#mp" x="53.05" y="241.14"/><use href="#mp" x="53.95" y="236.5"/><use href="#mp" x="54.86" y="232.1"/><use href="#mp" x="55.76" y="227.98"/><use href="#mp" x="56.67" y="224.38"/><use href="#mp" x="57.57" y="221.22"/><use href="#mp" x="58.48" y="218.34"/><use href="#mp" x="59.38" y="215.66"/><use href="#mp" x="60.29" y="213.1"/><use href="#mp" x="61.19" y="210.59"/><use href="#mp" x="62.1" y="208.14"/><use href="#mp" x="63" y="205.79"/><use href="#mp" x="63.91" y="203.56"/><use href="#mp" x="64.81" y="201.48"/><use href="#mp" x="65.72" y="199.57"/><use href="#mp" x="66.62" y="197.9"/><use href="#mp" x="67.52" y="196.37"/><use href="#mp" x="68.43" y="194.82"/><use href="#mp" x="69.33" y="193.08"/><use href="#mp" x="70.24" y="191.17"/><use href="#mp" x="71.14" y="189.2"/><use href="#mp" x="72.05" y="187.26"/><use href="#mp" x="72.95" y="185.31"/><use href="#mp" x="73.86" y="183.33"/><use href="#mp" x="74.76" y="181.35"/><use href="#mp" x="75.67" y="179.41"/><use href="#mp" x="76.57" y="177.55"/><use href="#mp" x="77.48" y="175.81"/><use href="#mp" x="78.38" y="174.19"/><use href="#mp" x="79.29" y="172.64"/><use href="#mp" x="80.19" y="171.14"/><use href="#mp" x="81.1" y="169.7"/><use href="#mp" x="82" y="168.3"/><use href="#mp" x="82.91" y="166.95"/><use href="#mp" x="83.81" y="165.63"/><use href="#mp" x="84.72" y="164.35"/><use href="#mp" x="85.62" y="163.1"/><use href="#mp" x="86.53" y="161.87"/><use href="#mp" x="87.43" y="160.67"/><use href="#mp" x="88.34" y="159.51"/><use href="#mp" x="89.24" y="158.36"/><use href="#mp" x="90.14" y="157.25"/><use href="#mp" x="91.05" y="156.15"/><use href="#mp" x="91.95" y="155.08"/><use href="#mp" x="92.86" y="154.02"/><use href="#mp" x="93.76" y="152.98"/><use href="#mp" x="94.67" y="151.95"/><use href="#mp" x="95.57" y="150.94"/><use href="#mp" x="96.48" y="149.95"/><use href="#mp" x="97.38" y="148.99"/><use href="#mp" x="98.29" y="148.06"/><use href="#mp" x="99.19" y="147.14"/><use href="#mp" x="100.1" y="146.21"/><use href="#mp" x="101" y="145.24"/><use href="#mp" x="101.91" y="144.25"/><use href="#mp" x="102.81" y="143.23"/><use href="#mp" x="103.72" y="142.21"/><use href="#mp" x="104.62" y="141.18"/><use href="#mp" x="105.53" y="140.16"/><use href="#mp" x="106.43" y="139.16"/><use href="#mp" x="107.34" y="138.2"/><use href="#mp" x="108.24" y="137.26"/><use href="#mp" x="109.15" y="136.34"/><use href="#mp" x="110.05" y="135.43"/><use href="#mp" x="110.96" y="134.53"/><use href="#mp" x="111.86" y="133.65"/><use href="#mp" x="112.76" y="132.79"/><use href="#mp" x="113.67" y="131.95"/><use href="#mp" x="114.57" y="131.13"/><use href="#mp" x="115.48" y="130.32"/><use href="#mp" x="116.38" y="129.53"/><use href="#mp" x="117.29" y="128.74"/><use href="#mp" x="118.19" y="127.97"/><use href="#mp" x="119.1" y="127.21"/><use href="#mp" x="120" y="126.45"/><use href="#mp" x="120.91" y="125.69"/><use href="#mp" x="121.81" y="124.94"/><use href="#mp" x="122.72" y="124.2"/><use href="#mp" x="123.62" y="123.46"/><use href="#mp" x="124.53" y="122.72"/><use href="#mp" x="125.43" y="122"/><use href="#mp" x="126.34" y="121.28"/><use href="#mp" x="127.24" y="120.57"/><use href="#mp" x="128.15" y="119.86"/><use href="#mp" x="129.05" y="119.17"/><use href="#mp" x="129.96" y="118.49"/><use href="#mp" x="130.86" y="117.82"/><use href="#mp" x="131.77" y="117.16"/><use href="#mp" x="132.67" y="116.51"/><use href="#mp" x="133.58" y="115.86"/><use href="#mp" x="134.48" y="115.21"/><use href="#mp" x="135.38" y="114.55"/><use href="#mp" x="136.29" y="113.9"/><use href="#mp" x="137.19" y="113.23"/><use href="#mp" x="138.1" y="112.55"/><use href="#mp" x="139" y="111.86"/><use href="#mp" x="139.91" y="111.17"/><use href="#mp" x="140.81" y="110.49"/><use href="#mp" x="141.72" y="109.84"/><use href="#mp" x="142.62" y="109.22"/><use href="#mp" x="143.53" y="108.62"/><use href="#mp" x="144.43" y="108.02"/><use href="#mp" x="145.34" y="107.44"/><use href="#mp" x="146.24" y="106.86"/><use href="#mp" x="147.15" y="106.3"/><use href="#mp" x="148.05" y="105.74"/><use href="#mp" x="148.96" y="105.2"/><use href="#mp" x="149.86" y="104.66"/><use href="#mp" x="150.77" y="104.13"/><use href="#mp" x="151.67" y="103.62"/><use href="#mp" x="152.58" y="103.11"/><use href="#mp" x="153.48" y="102.61"/><use href="#mp" x="154.39" y="102.13"/><use href="#mp" x="155.29" y="101.65"/><use href="#mp" x="156.2" y="101.18"/><use href="#mp" x="157.1" y="100.72"/><use href="#mp" x="158" y="100.27"/><use href="#mp" x="158.91" y="99.83"/><use href="#mp" x="159.81" y="99.4"/><use href="#mp" x="160.72" y="98.97"/><use href="#mp" x="161.62" y="98.55"/><use href="#mp" x="162.53" y="98.14"/><use href="#mp" x="163.43" y="97.73"/><use href="#mp" x="164.34" y="97.33"/><use href="#mp" x="165.24" y="96.93"/><use href="#mp" x="166.15" y="96.54"/><use href="#mp" x="167.05" y="96.14"/><use href="#mp" x="167.96" y="95.75"/><use href="#mp" x="168.86" y="95.37"/><use href="#mp" x="169.77" y="95"/><use href="#mp" x="170.67" y="94.63"/><use href="#mp" x="171.58" y="94.26"/><use href="#mp" x="172.48" y="93.9"/><use href="#mp" x="173.39" y="93.55"/><use href="#mp" x="174.29" y="93.19"/><use href="#mp" x="175.2" y="92.84"/><use href="#mp" x="176.1" y="92.49"/><use href="#mp" x="177.01" y="92.13"/><use href="#mp" x="177.91" y="91.78"/><use href="#mp" x="178.82" y="91.42"/><use href="#mp" x="179.72" y="91.06"/><use href="#mp" x="180.62" y="90.7"/><use href="#mp" x="181.53" y="90.34"/><use href="#mp" x="182.43" y="89.99"/><use href="#mp" x="183.34" y="89.64"/><use href="#mp" x="184.24" y="89.29"/><use href="#mp" x="185.15" y="88.94"/><use href="#mp" x="186.05" y="88.59"/><use href="#mp" x="186.96" y="88.24"/><use href="#mp" x="187.86" y="87.88"/><use href="#mp" x="188.77" y="87.52"/><use href="#mp" x="189.67" y="87.16"/><use href="#mp" x="190.58" y="86.78"/><use href="#mp" x="191.48" y="86.4"/><use href="#mp" x="192.39" y="86.02"/><use href="#mp" x="193.29" y="85.62"/><use href="#mp" x="194.2" y="85.21"/><use href="#mp" x="195.1" y="84.78"/><use href="#mp" x="196.01" y="84.33"/><use href="#mp" x="196.91" y="83.86"/><use href="#mp" x="197.82" y="83.38"/><use href="#mp" x="198.72" y="82.9"/><use href="#mp" x="199.63" y="82.42"/><use href="#mp" x="200.53" y="81.94"/><use href="#mp" x="201.44" y="81.48"/><use href="#mp" x="202.34" y="81.03"/><use href="#mp" x="203.24" y="80.59"/><use href="#mp" x="204.15" y="80.16"/><use href="#mp" x="205.05" y="79.73"/><use href="#mp" x="205.96" y="79.3"/><use href="#mp" x="206.86" y="78.88"/><use href="#mp" x="207.77" y="78.46"/><use href="#mp" x="208.67" y="78.05"/><use href="#mp" x="209.58" y="77.64"/><use href="#mp" x="210.48" y="77.23"/><use href="#mp" x="211.39" y="76.83"/><use href="#mp" x="212.29" y="76.44"/><use href="#mp" x="213.2" y="76.05"/><use href="#mp" x="214.1" y="75.67"/><use href="#mp" x="215.01" y="75.3"/><use href="#mp" x="215.91" y="74.93"/><use href="#mp" x="216.82" y="74.55"/><use href="#mp" x="217.72" y="74.18"/><use href="#mp" x="218.63" y="73.82"/><use href="#mp" x="219.53" y="73.45"/><use href="#mp" x="220.44" y="73.1"/><use href="#mp" x="221.34" y="72.75"/><use href="#mp" x="222.25" y="72.4"/><use href="#mp" x="223.15" y="72.06"/><use href="#mp" x="224.06" y="71.74"/><use href="#mp" x="224.96" y="71.42"/><use href="#mp" x="225.86" y="71.12"/><use href="#mp" x="226.77" y="70.83"/><use href="#mp" x="227.67" y="70.55"/><use href="#mp" x="228.58" y="70.28"/><use href="#mp" x="229.48" y="70.02"/><use href="#mp" x="230.39" y="69.77"/><use href="#mp" x="231.29" y="69.53"/><use href="#mp" x="232.2" y="69.29"/><use href="#mp" x="233.1" y="69.06"/><use href="#mp" x="234.01" y="68.84"/><use href="#mp" x="234.91" y="68.62"/><use href="#mp" x="235.82" y="68.4"/><use href="#mp" x="236.72" y="68.19"/><use href="#mp" x="237.63" y="67.98"/><use href="#mp" x="238.53" y="67.78"/><use href="#mp" x="239.44" y="67.57"/><use href="#mp" x="240.34" y="67.38"/><use href="#mp" x="241.25" y="67.18"/><use href="#mp" x="242.15" y="67"/><use href="#mp" x="243.06" y="66.82"/><use href="#mp" x="243.96" y="66.65"/><use href="#mp" x="244.87" y="66.48"/><use href="#mp" x="245.77" y="66.32"/><use href="#mp" x="246.68" y="66.15"/><use href="#mp" x="247.58" y="65.99"/><use href="#mp" x="248.48" y="65.82"/><use href="#mp" x="249.39" y="65.66"/><use href="#mp" x="250.29" y="65.48"/><use href="#mp" x="251.2" y="65.3"/><use href="#mp" x="252.1" y="65.12"/><use href="#mp" x="253.01" y="64.92"/><use href="#mp" x="253.91" y="64.72"/><use href="#mp" x="254.82" y="64.5"/><use href="#mp" x="255.72" y="64.28"/><use href="#mp" x="256.63" y="64.04"/><use href="#mp" x="257.53" y="63.79"/><use href="#mp" x="258.44" y="63.54"/><use href="#mp" x="259.34" y="63.28"/><use href="#mp" x="260.25" y="63.01"/><use href="#mp" x="261.15" y="62.72"/><use href="#mp" x="262.06" y="62.42"/><use href="#mp" x="262.96" y="62.13"/><use href="#mp" x="263.87" y="61.83"/><use href="#mp" x="264.77" y="61.53"/><use href="#mp" x="265.68" y="61.24"/><use href="#mp" x="266.58" y="60.95"/><use href="#mp" x="267.49" y="60.66"/><use href="#mp" x="268.39" y="60.38"/><use href="#mp" x="269.3" y="60.09"/><use href="#mp" x="270.2" y="59.81"/><use href="#mp" x="271.1" y="59.52"/><use href="#mp" x="272.01" y="59.22"/><use href="#mp" x="272.91" y="58.93"/><use href="#mp" x="273.82" y="58.64"/><use href="#mp" x="274.72" y="58.35"/><use href="#mp" x="275.63" y="58.07"/><use href="#mp" x="276.53" y="57.78"/><use href="#mp" x="277.44" y="57.51"/><use href="#mp" x="278.34" y="57.23"/><use href="#mp" x="279.25" y="56.97"/><use href="#mp" x="280.15" y="56.71"/><use href="#mp" x="281.06" y="56.46"/><use href="#mp" x="281.96" y="56.21"/><use href="#mp" x="282.87" y="55.96"/><use href="#mp" x="283.77" y="55.72"/><use href="#mp" x="284.68" y="55.47"/><use href="#mp" x="285.58" y="55.23"/><use href="#mp" x="286.49" y="54.99"/><use href="#mp" x="287.39" y="54.77"/><use href="#mp" x="288.3" y="54.55"/><use href="#mp" x="289.2" y="54.34"/><use href="#mp" x="290.11" y="54.15"/><use href="#mp" x="291.01" y="53.97"/><use href="#mp" x="291.92" y="53.81"/><use href="#mp" x="292.82" y="53.67"/><use href="#mp" x="293.72" y="53.53"/><use href="#mp" x="294.63" y="53.4"/><use href="#mp" x="295.53" y="53.28"/><use href="#mp" x="296.44" y="53.16"/><use href="#mp" x="297.34" y="53.04"/><use href="#mp" x="298.25" y="52.93"/><use href="#mp" x="299.15" y="52.83"/><use href="#mp" x="300.06" y="52.73"/><use href="#mp" x="300.96" y="52.65"/><use href="#mp" x="301.87" y="52.57"/><use href="#mp" x="302.77" y="52.49"/><use href="#mp" x="303.68" y="52.41"/><use href="#mp" x="304.58" y="52.33"/><use href="#mp" x="305.49" y="52.24"/><use href="#mp" x="306.39" y="52.16"/><use href="#mp" x="307.3" y="52.07"/><use href="#mp" x="308.2" y="51.99"/><use href="#mp" x="309.11" y="51.91"/><use href="#mp" x="310.01" y="51.83"/><use href="#mp" x="310.92" y="51.75"/><use href="#mp" x="311.82" y="51.67"/><use href="#mp" x="312.73" y="51.6"/><use href="#mp" x="313.63" y="51.52"/><use href="#mp" x="314.54" y="51.44"/><use href="#mp" x="315.44" y="51.37"/><use href="#mp" x="316.34" y="51.29"/><use href="#mp" x="317.25" y="51.21"/><use href="#mp" x="318.15" y="51.13"/><use href="#mp" x="319.06" y="51.06"/><use href="#mp" x="319.96" y="50.98"/><use href="#mp" x="320.87" y="50.89"/><use href="#mp" x="321.77" y="50.81"/><use href="#mp" x="322.68" y="50.73"/><use href="#mp" x="323.58" y="50.64"/><use href="#mp" x="324.49" y="50.55"/><use href="#mp" x="325.39" y="50.46"/><use href="#mp" x="326.3" y="50.37"/><use href="#mp" x="327.2" y="50.27"/><use href="#mp" x="328.11" y="50.17"/><use href="#mp" x="329.01" y="50.07"/><use href="#mp" x="329.92" y="49.96"/><use href="#mp" x="330.82" y="49.85"/><use href="#mp" x="331.73" y="49.74"/><use href="#mp" x="332.63" y="49.63"/><use href="#mp" x="333.54" y="49.52"/><use href="#mp" x="334.44" y="49.41"/><use href="#mp" x="335.35" y="49.29"/><use href="#mp" x="336.25" y="49.18"/><use href="#mp" x="337.16" y="49.06"/><use href="#mp" x="338.06" y="48.95"/><use href="#mp" x="338.96" y="48.83"/><use href="#mp" x="339.87" y="48.72"/><use href="#mp" x="340.77" y="48.61"/><use href="#mp" x="341.68" y="48.5"/><use href="#mp" x="342.58" y="48.39"/><use href="#mp" x="343.49" y="48.28"/><use href="#mp" x="344.39" y="48.17"/><use href="#mp" x="345.3" y="48.06"/><use href="#mp" x="346.2" y="47.94"/><use href="#mp" x="347.11" y="47.83"/><use href="#mp" x="348.01" y="47.72"/><use href="#mp" x="348.92" y="47.61"/><use href="#mp" x="349.82" y="47.5"/><use href="#mp" x="350.73" y="47.39"/><use href="#mp" x="351.63" y="47.28"/><use href="#mp" x="352.54" y="47.17"/><use href="#mp" x="353.44" y="47.06"/><use href="#mp" x="354.35" y="46.95"/><use href="#mp" x="355.25" y="46.84"/><use href="#mp" x="356.16" y="46.72"/><use href="#mp" x="357.06" y="46.61"/><use href="#mp" x="357.97" y="46.5"/><use href="#mp" x="358.87" y="46.39"/><use href="#mp" x="359.78" y="46.28"/><use href="#mp" x="360.68" y="46.17"/><use href="#mp" x="361.58" y="46.06"/><use href="#mp" x="362.49" y="45.95"/><use href="#mp" x="363.39" y="45.84"/><use href="#mp" x="364.3" y="45.73"/><use href="#mp" x="365.2" y="45.62"/><use href="#mp" x="366.11" y="45.51"/><use href="#mp" x="367.01" y="45.39"/><use href="#mp" x="367.92" y="45.28"/><use href="#mp" x="368.82" y="45.17"/><use href="#mp" x="369.73" y="45.05"/><use href="#mp" x="370.63" y="44.94"/><use href="#mp" x="371.54" y="44.82"/><use href="#mp" x="372.44" y="44.7"/><use href="#mp" x="373.35" y="44.58"/><use href="#mp" x="374.25" y="44.46"/><use href="#mp" x="375.16" y="44.34"/><use href="#mp" x="376.06" y="44.22"/><use href="#mp" x="376.97" y="44.1"/><use href="#mp" x="377.87" y="43.98"/><use href="#mp" x="378.78" y="43.86"/><use href="#mp" x="379.68" y="43.74"/><use href="#mp" x="380.59" y="43.61"/><use href="#mp" x="381.49" y="43.49"/><use href="#mp" x="382.4" y="43.36"/><use href="#mp" x="383.3" y="43.24"/><use href="#mp" x="384.2" y="43.11"/><use href="#mp" x="385.11" y="42.98"/><use href="#mp" x="386.01" y="42.85"/><use href="#mp" x="386.92" y="42.72"/><use href="#mp" x="387.82" y="42.59"/><use href="#mp" x="388.73" y="42.46"/><use href="#mp" x="389.63" y="42.33"/><use href="#mp" x="390.54" y="42.19"/><use href="#mp" x="391.44" y="42.05"/><use href="#mp" x="392.35" y="41.91"/><use href="#mp" x="393.25" y="41.77"/><use href="#mp" x="394.16" y="41.63"/><use href="#mp" x="395.06" y="41.49"/><use href="#mp" x="395.97" y="41.34"/><use href="#mp" x="396.87" y="41.19"/><use href="#mp" x="397.78" y="41.05"/><use href="#mp" x="398.68" y="40.9"/><use href="#mp" x="399.59" y="40.75"/><use href="#mp" x="400.49" y="40.6"/><use href="#mp" x="401.4" y="40.45"/><use href="#mp" x="402.3" y="40.3"/><use href="#mp" x="403.21" y="40.15"/><use href="#mp" x="404.11" y="40"/><use href="#mp" x="405.02" y="39.85"/><use href="#mp" x="405.92" y="39.71"/><use href="#mp" x="406.82" y="39.56"/><use href="#mp" x="407.73" y="39.4"/><use href="#mp" x="408.63" y="39.25"/><use href="#mp" x="409.54" y="39.09"/><use href="#mp" x="410.44" y="38.93"/><use href="#mp" x="411.35" y="38.77"/><use href="#mp" x="412.25" y="38.61"/><use href="#mp" x="413.16" y="38.45"/><use href="#mp" x="414.06" y="38.29"/><use href="#mp" x="414.97" y="38.14"/><use href="#mp" x="415.87" y="37.99"/><use href="#mp" x="416.78" y="37.84"/><use href="#mp" x="417.68" y="37.7"/><use href="#mp" x="418.59" y="37.57"/><use href="#mp" x="419.49" y="37.45"/><use href="#mp" x="420.4" y="37.33"/><use href="#mp" x="421.3" y="37.21"/><use href="#mp" x="422.21" y="37.1"/><use href="#mp" x="423.11" y="37"/><use href="#mp" x="424.02" y="36.9"/><use href="#mp" x="424.92" y="36.8"/><use href="#mp" x="425.83" y="36.7"/><use href="#mp" x="426.73" y="36.61"/><use href="#mp" x="427.64" y="36.51"/><use href="#mp" x="428.54" y="36.42"/><use href="#mp" x="429.44" y="36.33"/><use href="#mp" x="430.35" y="36.24"/><use href="#mp" x="431.25" y="36.15"/><use href="#mp" x="432.16" y="36.07"/><use href="#mp" x="433.06" y="35.98"/><use href="#mp" x="433.97" y="35.89"/><use href="#mp" x="434.87" y="35.8"/><use href="#mp" x="435.78" y="35.71"/><use href="#mp" x="436.68" y="35.62"/><use href="#mp" x="437.59" y="35.53"/><use href="#mp" x="438.49" y="35.44"/><use href="#mp" x="439.4" y="35.35"/><use href="#mp" x="440.3" y="35.26"/><use href="#mp" x="441.21" y="35.17"/><use href="#mp" x="442.11" y="35.08"/><use href="#mp" x="443.02" y="35"/><use href="#mp" x="443.92" y="34.91"/><use href="#mp" x="444.83" y="34.82"/><use href="#mp" x="445.73" y="34.73"/><use href="#mp" x="446.64" y="34.65"/><use href="#mp" x="447.54" y="34.56"/><use href="#mp" x="448.45" y="34.47"/><use href="#mp" x="449.35" y="34.38"/><use href="#mp" x="450.26" y="34.3"/><use href="#mp" x="451.16" y="34.21"/><use href="#mp" x="452.06" y="34.12"/><use href="#mp" x="452.97" y="34.02"/><use href="#mp" x="453.87" y="33.93"/><use href="#mp" x="454.78" y="33.84"/><use href="#mp" x="455.68" y="33.74"/><use href="#mp" x="456.59" y="33.64"/><use href="#mp" x="457.49" y="33.54"/><use href="#mp" x="458.4" y="33.44"/><use href="#mp" x="459.3" y="33.34"/><use href="#mp" x="460.21" y="33.24"/><use href="#mp" x="461.11" y="33.13"/><use href="#mp" x="462.02" y="33.04"/><use href="#mp" x="462.92" y="32.94"/><use href="#mp" x="463.83" y="32.84"/><use href="#mp" x="464.73" y="32.75"/><use href="#mp" x="465.64" y="32.67"/><use href="#mp" x="466.54" y="32.58"/><use href="#mp" x="467.45" y="32.5"/><use href="#mp" x="468.35" y="32.42"/><use href="#mp" x="469.26" y="32.34"/><use href="#mp" x="470.16" y="32.26"/><use href="#mp" x="471.07" y="32.19"/><use href="#mp" x="471.97" y="32.11"/><use href="#mp" x="472.88" y="32.04"/><use href="#mp" x="473.78" y="31.96"/><use href="#mp" x="474.68" y="31.89"/><use href="#mp" x="475.59" y="31.82"/><use href="#mp" x="476.49" y="31.75"/><use href="#mp" x="477.4" y="31.68"/><use href="#mp" x="478.3" y="31.61"/><use href="#mp" x="479.21" y="31.55"/><use href="#mp" x="480.11" y="31.48"/><use href="#mp" x="481.02" y="31.41"/><use href="#mp" x="481.92" y="31.35"/><use href="#mp" x="482.83" y="31.29"/><use href="#mp" x="483.73" y="31.22"/><use href="#mp" x="484.64" y="31.16"/><use href="#mp" x="485.54" y="31.1"/><use href="#mp" x="486.45" y="31.03"/><use href="#mp" x="487.35" y="30.97"/><use href="#mp" x="488.26" y="30.91"/><use href="#mp" x="489.16" y="30.85"/><use href="#mp" x="490.07" y="30.79"/><use href="#mp" x="490.97" y="30.74"/><use href="#mp" x="491.88" y="30.68"/><use href="#mp" x="492.78" y="30.62"/><use href="#mp" x="493.69" y="30.57"/><use href="#mp" x="494.59" y="30.51"/><use href="#mp" x="495.5" y="30.46"/><use href="#mp" x="496.4" y="30.41"/><polyline fill="none" stroke="#00ff00" stroke-width="1" points="44,319.2 44.9,267.52 45.81,253.31 46.71,235.21 47.62,223.27 48.52,212.65 49.43,203.25 50.33,195.52 51.24,187.98 52.14,181.7 53.05,175.46 53.95,170.08 54.86,165.01 55.76,160.04 56.67,155.21 57.57,150.93 58.48,147.26 59.38,143.91 60.29,140.66 61.19,137.26 62.1,133.63 63,130.05 63.91,126.71 64.81,123.77 65.72,121 66.62,118.41 67.52,116.01 68.43,113.81 69.33,111.81 70.24,109.97 71.14,108.23 72.05,106.59 72.95,104.99 73.86,103.41 74.76,101.82 75.67,100.21 76.57,98.59 77.48,96.98 78.38,95.39 79.29,93.83 80.19,92.31 81.1,90.85 82,89.45 82.91,88.12 83.81,86.89 84.72,85.7 85.62,84.55 86.53,83.46 87.43,82.4 88.34,81.39 89.24,80.4 90.14,79.43 91.05,78.47 91.95,77.53 92.86,76.62 93.76,75.74 94.67,74.89 95.57,74.09 96.48,73.33 97.38,72.58 98.29,71.85 99.19,71.15 100.1,70.47 101,69.81 101.91,69.16 102.81,68.52 103.72,67.89 104.62,67.25 105.53,66.62 106.43,65.98 107.34,65.33 108.24,64.69 109.15,64.04 110.05,63.34 110.96,62.64 111.86,61.96 112.76,61.3 113.67,60.65 114.57,60.03 115.48,59.43 116.38,58.85 117.29,58.31 118.19,57.8 119.1,57.32 120,56.85 120.91,56.41 121.81,55.96 122.72,55.49 123.62,55.03 124.53,54.58 125.43,54.13 126.34,53.68 127.24,53.23 128.15,52.78 129.05,52.31 129.96,51.83 130.86,51.36 131.77,50.91 132.67,50.48 133.58,50.09 134.48,49.77 135.38,49.49 136.29,49.23 137.19,48.98 138.1,48.74 139,48.51 139.91,48.29 140.81,48.07 141.72,47.86 142.62,47.64 143.53,47.43 144.43,47.23 145.34,47.03 146.24,46.83 147.15,46.65 148.05,46.47 148.96,46.31 149.86,46.17 150.77,46.03 151.67,45.9 152.58,45.77 153.48,45.65 154.39,45.53 155.29,45.42 156.2,45.31 157.1,45.2 158,45.09 158.91,44.99 159.81,44.88 160.72,44.77 161.62,44.66 162.53,44.55 163.43,44.44 164.34,44.32 165.24,44.2 166.15,44.08 167.05,43.96 167.96,43.84 168.86,43.71 169.77,43.59 170.67,43.48 171.58,43.39 172.48,43.29 173.39,43.19 174.29,43.09 175.2,42.99 176.1,42.9 177.01,42.8 177.91,42.71 178.82,42.62 179.72,42.53 180.62,42.44 181.53,42.35 182.43,42.27 183.34,42.19 184.24,42.11 185.15,42.03 186.05,41.95 186.96,41.87 187.86,41.8 188.77,41.72 189.67,41.64 190.58,41.56 191.48,41.49 192.39,41.41 193.29,41.33 194.2,41.24 195.1,41.16 196.01,41.07 196.91,40.98 197.82,40.89 198.72,40.8 199.63,40.7 200.53,40.6 201.44,40.5 202.34,40.4 203.24,40.3 204.15,40.19 205.05,40.08 205.96,39.97 206.86,39.87 207.77,39.76 208.67,39.65 209.58,39.54 210.48,39.42 211.39,39.31 212.29,39.21 213.2,39.1 214.1,38.99 215.01,38.88 215.91,38.77 216.82,38.67 217.72,38.56 218.63,38.45 219.53,38.34 220.44,38.24 221.34,38.13 222.25,38.02 223.15,37.91 224.06,37.8 224.96,37.69 225.86,37.57 226.77,37.46 227.67,37.34 228.58,37.22 229.48,37.1 230.39,36.97 231.29,36.84 232.2,36.71 233.1,36.58 234.01,36.44 234.91,36.3 235.82,36.17 236.72,36.03 237.63,35.9 238.53,35.76 239.44,35.63 240.34,35.5 241.25,35.38 242.15,35.26 243.06,35.14 243.96,35.03 244.87,34.93 245.77,34.81 246.68,34.69 247.58,34.57 248.48,34.45 249.39,34.33 250.29,34.22 251.2,34.11 252.1,34.01 253.01,33.93 253.91,33.86 254.82,33.8 255.72,33.76 256.63,33.75 257.53,33.76 258.44,33.8 259.34,33.85 260.25,33.93 261.15,34.02 262.06,34.13 262.96,34.24 263.87,34.36 264.77,34.48 265.68,34.6 266.58,34.72 267.49,34.82 268.39,34.92 269.3,35 270.2,35.08 271.1,35.17 272.01,35.25 272.91,35.34 273.82,35.43 274.72,35.51 275.63,35.59 276.53,35.67 277.44,35.73 278.34,35.79 279.25,35.84 280.15,35.87 281.06,35.9 281.96,35.9 282.87,35.88 283.77,35.85 284.68,35.8 285.58,35.74 286.49,35.68 287.39,35.61 288.3,35.55 289.2,35.49 290.11,35.44 291.01,35.41 291.92,35.4 292.82,35.4 293.72,35.42 294.63,35.44 295.53,35.46 296.44,35.49 297.34,35.53 298.25,35.56 299.15,35.61 300.06,35.65 300.96,35.69 301.87,35.73 302.77,35.77 303.68,35.8 304.58,35.84 305.49,35.86 306.39,35.88 307.3,35.9 308.2,35.9 309.11,35.9 310.01,35.88 310.92,35.87 311.82,35.84 312.73,35.81 313.63,35.77 314.54,35.72 315.44,35.67 316.34,35.62 317.25,35.56 318.15,35.5 319.06,35.43 319.96,35.36 320.87,35.29 321.77,35.22 322.68,35.15 323.58,35.08 324.49,35 325.39,34.93 326.3,34.85 327.2,34.77 328.11,34.67 329.01,34.57 329.92,34.46 330.82,34.34 331.73,34.22 332.63,34.09 333.54,33.96 334.44,33.82 335.35,33.69 336.25,33.55 337.16,33.42 338.06,33.28 338.96,33.15 339.87,33.03 340.77,32.9 341.68,32.79 342.58,32.68 343.49,32.55 344.39,32.41 345.3,32.28 346.2,32.15 347.11,32.04 348.01,31.96 348.92,31.91 349.82,31.9 350.73,31.96 351.63,32.08 352.54,32.23 353.44,32.41 354.35,32.59 355.25,32.77 356.16,32.93 357.06,33.08 357.97,33.24 358.87,33.41 359.78,33.58 360.68,33.75 361.58,33.93 362.49,34.1 363.39,34.26 364.3,34.42 365.2,34.57 366.11,34.71 367.01,34.83 367.92,34.94 368.82,35.03 369.73,35.12 370.63,35.2 371.54,35.29 372.44,35.37 373.35,35.45 374.25,35.53 375.16,35.6 376.06,35.66 376.97,35.72 377.87,35.77 378.78,35.82 379.68,35.85 380.59,35.88 381.49,35.9 382.4,35.9 383.3,35.9 384.2,35.88 385.11,35.87 386.01,35.84 386.92,35.81 387.82,35.78 388.73,35.74 389.63,35.7 390.54,35.65 391.44,35.6 392.35,35.55 393.25,35.5 394.16,35.44 395.06,35.39 395.97,35.33 396.87,35.27 397.78,35.22 398.68,35.15 399.59,35.08 400.49,35.01 401.4,34.93 402.3,34.84 403.21,34.75 404.11,34.65 405.02,34.55 405.92,34.45 406.82,34.35 407.73,34.24 408.63,34.13 409.54,34.03 410.44,33.92 411.35,33.81 412.25,33.7 413.16,33.58 414.06,33.46 414.97,33.34 415.87,33.21 416.78,33.07 417.68,32.92 418.59,32.77 419.49,32.6 420.4,32.42 421.3,32.21 422.21,31.96 423.11,31.7 424.02,31.42 424.92,31.14 425.83,30.85 426.73,30.58 427.64,30.31 428.54,30 429.44,29.69 430.35,29.37 431.25,29.08 432.16,28.82 433.06,28.61 433.97,28.47 434.87,28.36 435.78,28.25 436.68,28.15 437.59,28.05 438.49,27.96 439.4,27.87 440.3,27.79 441.21,27.72 442.11,27.66 443.02,27.61 443.92,27.57 444.83,27.53 445.73,27.51 446.64,27.5 447.54,27.5 448.45,27.51 449.35,27.54 450.26,27.57 451.16,27.61 452.06,27.67 452.97,27.73 453.87,27.79 454.78,27.87 455.68,27.95 456.59,28.03 457.49,28.12 458.4,28.22 459.3,28.31 460.21,28.41 461.11,28.51 462.02,28.65 462.92,28.83 463.83,29.04 464.73,29.27 465.64,29.51 466.54,29.76 467.45,29.99 468.35,30.2 469.26,30.38 470.16,30.52 471.07,30.63 471.97,30.73 472.88,30.82 473.78,30.9 474.68,30.98 475.59,31.04 476.49,31.11 477.4,31.18 478.3,31.25 479.21,31.31 480.11,31.38 481.02,31.43 481.92,31.48 482.83,31.53 483.73,31.56 484.64,31.59 485.54,31.6 486.45,31.6 487.35,31.59 488.26,31.57 489.16,31.54 490.07,31.51 490.97,31.46 491.88,31.41 492.78,31.35 493.69,31.27 494.59,31.2 495.5,31.11 496.4,31.01"/><use href="#mg" x="44" y="319.2"/><use href="#mg" x="44.9" y="267.52"/><use href="#mg" x="45.81" y="253.31"/><use href="#mg" x="46.71" y="235.21"/><use href="#mg" x="47.62" y="223.27"/><use href="#mg" x="48.52" y="212.65"/><use href="#mg" x="49.43" y="203.25"/><use href="#mg" x="50.33" y="195.52"/><use href="#mg" x="51.24" y="187.98"/><use href="#mg" x="52.14" y="181.7"/><use href="#mg" x="53.05" y="175.46"/><use href="#mg" x="53.95" y="170.08"/><use href="#mg" x="54.86" y="165.01"/><use href="#mg" x="55.76" y="160.04"/><use href="#mg" x="56.67" y="155.21"/><use href="#mg" x="57.57" y="150.93"/><use href="#mg" x="58.48" y="147.26"/><use href="#mg" x="59.38" y="143.91"/><use href="#mg" x="60.29" y="140.66"/><use href="#mg" x="61.19" y="137.26"/><use href="#mg" x="62.1" y="133.63"/><use href="#mg" x="63" y="130.05"/><use href="#mg" x="63.91" y="126.71"/><use href="#mg" x="64.81" y="123.77"/><use href="#mg" x="65.72" y="121"/><use href="#mg" x="66.62" y="118.41"/><use href="#mg" x="67.52" y="116.01"/><use href="#mg" x="68.43" y="113.81"/><use href="#mg" x="69.33" y="111.81"/><use href="#mg" x="70.24" y="109.97"/><use href="#mg" x="71.14" y="108.23"/><use href="#mg" x="72.05" y="106.59"/><use href="#mg" x="72.95" y="104.99"/><use href="#mg" x="73.86" y="103.41"/><use href="#mg" x="74.76" y="101.82"/><use href="#mg" x="75.67" y="100.21"/><use href="#mg" x="76.57" y="98.59"/><use href="#mg" x="77.48" y="96.98"/><use href="#mg" x="78.38" y="95.39"/><use href="#mg" x="79.29" y="93.83"/><use href="#mg" x="80.19" y="92.31"/><use href="#mg" x="81.1" y="90.85"/><use href="#mg" x="82" y="89.45"/><use href="#mg" x="82.91" y="88.12"/><use href="#mg" x="83.81" y="86.89"/><use href="#mg" x="84.72" y="85.7"/><use href="#mg" x="85.62" y="84.55"/><use href="#mg" x="86.53" y="83.46"/><use href="#mg" x="87.43" y="82.4"/><use href="#mg" x="88.34" y="81.39"/><use href="#mg" x="89.24" y="80.4"/><use href="#mg" x="90.14" y="79.43"/><use href="#mg" x="91.05" y="78.47"/><use href="#mg" x="91.95" y="77.53"/><use href="#mg" x="92.86" y="76.62"/><use href="#mg" x="93.76" y="75.74"/><use href="#mg" x="94.67" y="74.89"/><use href="#mg" x="95.57" y="74.09"/><use href="#mg" x="96.48" y="73.33"/><use href="#mg" x="97.38" y="72.58"/><use href="#mg" x="98.29" y="71.85"/><use href="#mg" x="99.19" y="71.15"/><use href="#mg" x="100.1" y="70.47"/><use href="#mg" x="101" y="69.81"/><use href="#mg" x="101.91" y="69.16"/><use href="#mg" x="102.81" y="68.52"/><use href="#mg" x="103.72" y="67.89"/><use href="#mg" x="104.62" y="67.25"/><use href="#mg" x="105.53" y="66.62"/><use href="#mg" x="106.43" y="65.98"/><use href="#mg" x="107.34" y="65.33"/><use href="#mg" x="108.24" y="64.69"/><use href="#mg" x="109.15" y="64.04"/><use href="#mg" x="110.05" y="63.34"/><use href="#mg" x="110.96" y="62.64"/><use href="#mg" x="111.86" y="61.96"/><use href="#mg" x="112.76" y="61.3"/><use href="#mg" x="113.67" y="60.65"/><use href="#mg" x="114.57" y="60.03"/><use href="#mg" x="115.48" y="59.43"/><use href="#mg" x="116.38" y="58.85"/><use href="#mg" x="117.29" y="58.31"/><use href="#mg" x="118.19" y="57.8"/><use href="#mg" x="119.1" y="57.32"/><use href="#mg" x="120" y="56.85"/><use href="#mg" x="120.91" y="56.41"/><use href="#mg" x="121.81" y="55.96"/><use href="#mg" x="122.72" y="55.49"/><use href="#mg" x="123.62" y="55.03"/><use href="#mg" x="124.53" y="54.58"/><use href="#mg" x="125.43" y="54.13"/><use href="#mg" x="126.34" y="53.68"/><use href="#mg" x="127.24" y="53.23"/><use href="#mg" x="128.15" y="52.78"/><use href="#mg" x="129.05" y="52.31"/><use href="#mg" x="129.96" y="51.83"/><use href="#mg" x="130.86" y="51.36"/><use href="#mg" x="131.77" y="50.91"/><use href="#mg" x="132.67" y="50.48"/><use href="#mg" x="133.58" y="50.09"/><use href="#mg" x="134.48" y="49.77"/><use href="#mg" x="135.38" y="49.49"/><use href="#mg" x="136.29" y="49.23"/><use href="#mg" x="137.19" y="48.98"/><use href="#mg" x="138.1" y="48.74"/><use href="#mg" x="139" y="48.51"/><use href="#mg" x="139.91" y="48.29"/><use href="#mg" x="140.81" y="48.07"/><use href="#mg" x="141.72" y="47.86"/><use href="#mg" x="142.62" y="47.64"/><use href="#mg" x="143.53" y="47.43"/><use href="#mg" x="144.43" y="47.23"/><use href="#mg" x="145.34" y="47.03"/><use href="#mg" x="146.24" y="46.83"/><use href="#mg" x="147.15" y="46.65"/><use href="#mg" x="148.05" y="46.47"/><use href="#mg" x="148.96" y="46.31"/><use href="#mg" x="149.86" y="46.17"/><use href="#mg" x="150.77" y="46.03"/><use href="#mg" x="151.67" y="45.9"/><use href="#mg" x="152.58" y="45.77"/><use href="#mg" x="153.48" y="45.65"/><use href="#mg" x="154.39" y="45.53"/><use href="#mg" x="155.29" y="45.42"/><use href="#mg" x="156.2" y="45.31"/><use href="#mg" x="157.1" y="45.2"/><use href="#mg" x="158" y="45.09"/><use href="#mg" x="158.91" y="44.99"/><use href="#mg" x="159.81" y="44.88"/><use href="#mg" x="160.72" y="44.77"/><use href="#mg" x="161.62" y="44.66"/><use href="#mg" x="162.53" y="44.55"/><use href="#mg" x="163.43" y="44.44"/><use href="#mg" x="164.34" y="44.32"/><use href="#mg" x="165.24" y="44.2"/><use href="#mg" x="166.15" y="44.08"/><use href="#mg" x="167.05" y="43.96"/><use href="#mg" x="167.96" y="43.84"/><use href="#mg" x="168.86" y="43.71"/><use href="#mg" x="169.77" y="43.59"/><use href="#mg" x="170.67" y="43.48"/><use href="#mg" x="171.58" y="43.39"/><use href="#mg" x="172.48" y="43.29"/><use href="#mg" x="173.39" y="43.19"/><use href="#mg" x="174.29" y="43.09"/><use href="#mg" x="175.2" y="42.99"/><use href="#mg" x="176.1" y="42.9"/><use href="#mg" x="177.01" y="42.8"/><use href="#mg" x="177.91" y="42.71"/><use href="#mg" x="178.82" y="42.62"/><use href="#mg" x="179.72" y="42.53"/><use href="#mg" x="180.62" y="42.44"/><use href="#mg" x="181.53" y="42.35"/><use href="#mg" x="182.43" y="42.27"/><use href="#mg" x="183.34" y="42.19"/><use href="#mg" x="184.24" y="42.11"/><use href="#mg" x="185.15" y="42.03"/><use href="#mg" x="186.05" y="41.95"/><use href="#mg" x="186.96" y="41.87"/><use href="#mg" x="187.86" y="41.8"/><use href="#mg" x="188.77" y="41.72"/><use href="#mg" x="189.67" y="41.64"/><use href="#mg" x="190.58" y="41.56"/><use href="#mg" x="191.48" y="41.49"/><use href="#mg" x="192.39" y="41.41"/><use href="#mg" x="193.29" y="41.33"/><use href="#mg" x="194.2" y="41.24"/><use href="#mg" x="195.1" y="41.16"/><use href="#mg" x="196.01" y="41.07"/><use href="#mg" x="196.91" y="40.98"/><use href="#mg" x="197.82" y="40.89"/><use href="#mg" x="198.72" y="40.8"/><use href="#mg" x="199.63" y="40.7"/><use href="#mg" x="200.53" y="40.6"/><use href="#mg" x="201.44" y="40.5"/><use href="#mg" x="202.34" y="40.4"/><use href="#mg" x="203.24" y="40.3"/><use href="#mg" x="204.15" y="40.19"/><use href="#mg" x="205.05" y="40.08"/><use href="#mg" x="205.96" y="39.97"/><use href="#mg" x="206.86" y="39.87"/><use href="#mg" x="207.77" y="39.76"/><use href="#mg" x="208.67" y="39.65"/><use href="#mg" x="209.58" y="39.54"/><use href="#mg" x="210.48" y="39.42"/><use href="#mg" x="211.39" y="39.31"/><use href="#mg" x="212.29" y="39.21"/><use href="#mg" x="213.2" y="39.1"/><use href="#mg" x="214.1" y="38.99"/><use href="#mg" x="215.01" y="38.88"/><use href="#mg" x="215.91" y="38.77"/><use href="#mg" x="216.82" y="38.67"/><use href="#mg" x="217.72" y="38.56"/><use href="#mg" x="218.63" y="38.45"/><use href="#mg" x="219.53" y="38.34"/><use href="#mg" x="220.44" y="38.24"/><use href="#mg" x="221.34" y="38.13"/><use href="#mg" x="222.25" y="38.02"/><use href="#mg" x="223.15" y="37.91"/><use href="#mg" x="224.06" y="37.8"/><use href="#mg" x="224.96" y="37.69"/><use href="#mg" x="225.86" y="37.57"/><use href="#mg" x="226.77" y="37.46"/><use href="#mg" x="227.67" y="37.34"/><use href="#mg" x="228.58" y="37.22"/><use href="#mg" x="229.48" y="37.1"/><use href="#mg" x="230.39" y="36.97"/><use href="#mg" x="231.29" y="36.84"/><use href="#mg" x="232.2" y="36.71"/><use href="#mg" x="233.1" y="36.58"/><use href="#mg" x="234.01" y="36.44"/><use href="#mg" x="234.91" y="36.3"/><use href="#mg" x="235.82" y="36.17"/><use href="#mg" x="236.72" y="36.03"/><use href="#mg" x="237.63" y="35.9"/><use href="#mg" x="238.53" y="35.76"/><use href="#mg" x="239.44" y="35.63"/><use href="#mg" x="240.34" y="35.5"/><use href="#mg" x="241.25" y="35.38"/><use href="#mg" x="242.15" y="35.26"/><use href="#mg" x="243.06" y="35.14"/><use href="#mg" x="243.96" y="35.03"/><use href="#mg" x="244.87" y="34.93"/><use href="#mg" x="245.77" y="34.81"/><use href="#mg" x="246.68" y="34.69"/><use href="#mg" x="247.58" y="34.57"/><use href="#mg" x="248.48" y="34.45"/><use href="#mg" x="249.39" y="34.33"/><use href="#mg" x="250.29" y="34.22"/><use href="#mg" x="251.2" y="34.11"/><use href="#mg" x="252.1" y="34.01"/><use href="#mg" x="253.01" y="33.93"/><use href="#mg" x="253.91" y="33.86"/><use href="#mg" x="254.82" y="33.8"/><use href="#mg" x="255.72" y="33.76"/><use href="#mg" x="256.63" y="33.75"/><use href="#mg" x="257.53" y="33.76"/><use href="#mg" x="258.44" y="33.8"/><use href="#mg" x="259.34" y="33.85"/><use href="#mg" x="260.25" y="33.93"/><use href="#mg" x="261.15" y="34.02"/><use href="#mg" x="262.06" y="34.13"/><use href="#mg" x="262.96" y="34.24"/><use href="#mg" x="263.87" y="34.36"/><use href="#mg" x="264.77" y="34.48"/><use href="#mg" x="265.68" y="34.6"/><use href="#mg" x="266.58" y="34.72"/><use href="#mg" x="267.49" y="34.82"/><use href="#mg" x="268.39" y="34.92"/><use href="#mg" x="269.3" y="35"/><use href="#mg" x="270.2" y="35.08"/><use href="#mg" x="271.1" y="35.17"/><use href="#mg" x="272.01" y="35.25"/><use href="#mg" x="272.91" y="35.34"/><use href="#mg" x="273.82" y="35.43"/><use href="#mg" x="274.72" y="35.51"/><use href="#mg" x="275.63" y="35.59"/><use href="#mg" x="276.53" y="35.67"/><use href="#mg" x="277.44" y="35.73"/><use href="#mg" x="278.34" y="35.79"/><use href="#mg" x="279.25" y="35.84"/><use href="#mg" x="280.15" y="35.87"/><use href="#mg" x="281.06" y="35.9"/><use href="#mg" x="281.96" y="35.9"/><use href="#mg" x="282.87" y="35.88"/><use href="#mg" x="283.77" y="35.85"/><use href="#mg" x="284.68" y="35.8"/><use href="#mg" x="285.58" y="35.74"/><use href="#mg" x="286.49" y="35.68"/><use href="#mg" x="287.39" y="35.61"/><use href="#mg" x="288.3" y="35.55"/><use href="#mg" x="289.2" y="35.49"/><use href="#mg" x="290.11" y="35.44"/><use href="#mg" x="291.01" y="35.41"/><use href="#mg" x="291.92" y="35.4"/><use href="#mg" x="292.82" y="35.4"/><use href="#mg" x="293.72" y="35.42"/><use href="#mg" x="294.63" y="35.44"/><use href="#mg" x="295.53" y="35.46"/><use href="#mg" x="296.44" y="35.49"/><use href="#mg" x="297.34" y="35.53"/><use href="#mg" x="298.25" y="35.56"/><use href="#mg" x="299.15" y="35.61"/><use href="#mg" x="300.06" y="35.65"/><use href="#mg" x="300.96" y="35.69"/><use href="#mg" x="301.87" y="35.73"/><use href="#mg" x="302.77" y="35.77"/><use href="#mg" x="303.68" y="35.8"/><use href="#mg" x="304.58" y="35.84"/><use href="#mg" x="305.49" y="35.86"/><use href="#mg" x="306.39" y="35.88"/><use href="#mg" x="307.3" y="35.9"/><use href="#mg" x="308.2" y="35.9"/><use href="#mg" x="309.11" y="35.9"/><use href="#mg" x="310.01" y="35.88"/><use href="#mg" x="310.92" y="35.87"/><use href="#mg" x="311.82" y="35.84"/><use href="#mg" x="312.73" y="35.81"/><use href="#mg" x="313.63" y="35.77"/><use href="#mg" x="314.54" y="35.72"/><use href="#mg" x="315.44" y="35.67"/><use href="#mg" x="316.34" y="35.62"/><use href="#mg" x="317.25" y="35.56"/><use href="#mg" x="318.15" y="35.5"/><use href="#mg" x="319.06" y="35.43"/><use href="#mg" x="319.96" y="35.36"/><use href="#mg" x="320.87" y="35.29"/><use href="#mg" x="321.77" y="35.22"/><use href="#mg" x="322.68" y="35.15"/><use href="#mg" x="323.58" y="35.08"/><use href="#mg" x="324.49" y="35"/><use href="#mg" x="325.39" y="34.93"/><use href="#mg" x="326.3" y="34.85"/><use href="#mg" x="327.2" y="34.77"/><use href="#mg" x="328.11" y="34.67"/><use href="#mg" x="329.01" y="34.57"/><use href="#mg" x="329.92" y="34.46"/><use href="#mg" x="330.82" y="34.34"/><use href="#mg" x="331.73" y="34.22"/><use href="#mg" x="332.63" y="34.09"/><use href="#mg" x="333.54" y="33.96"/><use href="#mg" x="334.44" y="33.82"/><use href="#mg" x="335.35" y="33.69"/><use href="#mg" x="336.25" y="33.55"/><use href="#mg" x="337.16" y="33.42"/><use href="#mg" x="338.06" y="33.28"/><use href="#mg" x="338.96" y="33.15"/><use href="#mg" x="339.87" y="33.03"/><use href="#mg" x="340.77" y="32.9"/><use href="#mg" x="341.68" y="32.79"/><use href="#mg" x="342.58" y="32.68"/><use href="#mg" x="343.49" y="32.55"/><use href="#mg" x="344.39" y="32.41"/><use href="#mg" x="345.3" y="32.28"/><use href="#mg" x="346.2" y="32.15"/><use href="#mg" x="347.11" y="32.04"/><use href="#mg" x="348.01" y="31.96"/><use href="#mg" x="348.92" y="31.91"/><use href="#mg" x="349.82" y="31.9"/><use href="#mg" x="350.73" y="31.96"/><use href="#mg" x="351.63" y="32.08"/><use href="#mg" x="352.54" y="32.23"/><use href="#mg" x="353.44" y="32.41"/><use href="#mg" x="354.35" y="32.59"/><use href="#mg" x="355.25" y="32.77"/><use href="#mg" x="356.16" y="32.93"/><use href="#mg" x="357.06" y="33.08"/><use href="#mg" x="357.97" y="33.24"/><use href="#mg" x="358.87" y="33.41"/><use href="#mg" x="359.78" y="33.58"/><use href="#mg" x="360.68" y="33.75"/><use href="#mg" x="361.58" y="33.93"/><use href="#mg" x="362.49" y="34.1"/><use href="#mg" x="363.39" y="34.26"/><use href="#mg" x="364.3" y="34.42"/><use href="#mg" x="365.2" y="34.57"/><use href="#mg" x="366.11" y="34.71"/><use href="#mg" x="367.01" y="34.83"/><use href="#mg" x="367.92" y="34.94"/><use href="#mg" x="368.82" y="35.03"/><use href="#mg" x="369.73" y="35.12"/><use href="#mg" x="370.63" y="35.2"/><use href="#mg" x="371.54" y="35.29"/><use href="#mg" x="372.44" y="35.37"/><use href="#mg" x="373.35" y="35.45"/><use href="#mg" x="374.25" y="35.53"/><use href="#mg" x="375.16" y="35.6"/><use href="#mg" x="376.06" y="35.66"/><use href="#mg" x="376.97" y="35.72"/><use href="#mg" x="377.87" y="35.77"/><use href="#mg" x="378.78" y="35.82"/><use href="#mg" x="379.68" y="35.85"/><use href="#mg" x="380.59" y="35.88"/><use href="#mg" x="381.49" y="35.9"/><use href="#mg" x="382.4" y="35.9"/><use href="#mg" x="383.3" y="35.9"/><use href="#mg" x="384.2" y="35.88"/><use href="#mg" x="385.11" y="35.87"/><use href="#mg" x="386.01" y="35.84"/><use href="#mg" x="386.92" y="35.81"/><use href="#mg" x="387.82" y="35.78"/><use href="#mg" x="388.73" y="35.74"/><use href="#mg" x="389.63" y="35.7"/><use href="#mg" x="390.54" y="35.65"/><use href="#mg" x="391.44" y="35.6"/><use href="#mg" x="392.35" y="35.55"/><use href="#mg" x="393.25" y="35.5"/><use href="#mg" x="394.16" y="35.44"/><use href="#mg" x="395.06" y="35.39"/><use href="#mg" x="395.97" y="35.33"/><use href="#mg" x="396.87" y="35.27"/><use href="#mg" x="397.78" y="35.22"/><use href="#mg" x="398.68" y="35.15"/><use href="#mg" x="399.59" y="35.08"/><use href="#mg" x="400.49" y="35.01"/><use href="#mg" x="401.4" y="34.93"/><use href="#mg" x="402.3" y="34.84"/><use href="#mg" x="403.21" y="34.75"/><use href="#mg" x="404.11" y="34.65"/><use href="#mg" x="405.02" y="34.55"/><use href="#mg" x="405.92" y="34.45"/><use href="#mg" x="406.82" y="34.35"/><use href="#mg" x="407.73" y="34.24"/><use href="#mg" x="408.63" y="34.13"/><use href="#mg" x="409.54" y="34.03"/><use href="#mg" x="410.44" y="33.92"/><use href="#mg" x="411.35" y="33.81"/><use href="#mg" x="412.25" y="33.7"/><use href="#mg" x="413.16" y="33.58"/><use href="#mg" x="414.06" y="33.46"/><use href="#mg" x="414.97" y="33.34"/><use href="#mg" x="415.87" y="33.21"/><use href="#mg" x="416.78" y="33.07"/><use href="#mg" x="417.68" y="32.92"/><use href="#mg" x="418.59" y="32.77"/><use href="#mg" x="419.49" y="32.6"/><use href="#mg" x="420.4" y="32.42"/><use href="#mg" x="421.3" y="32.21"/><use href="#mg" x="422.21" y="31.96"/><use href="#mg" x="423.11" y="31.7"/><use href="#mg" x="424.02" y="31.42"/><use href="#mg" x="424.92" y="31.14"/><use href="#mg" x="425.83" y="30.85"/><use href="#mg" x="426.73" y="30.58"/><use href="#mg" x="427.64" y="30.31"/><use href="#mg" x="428.54" y="30"/><use href="#mg" x="429.44" y="29.69"/><use href="#mg" x="430.35" y="29.37"/><use href="#mg" x="431.25" y="29.08"/><use href="#mg" x="432.16" y="28.82"/><use href="#mg" x="433.06" y="28.61"/><use href="#mg" x="433.97" y="28.47"/><use href="#mg" x="434.87" y="28.36"/><use href="#mg" x="435.78" y="28.25"/><use href="#mg" x="436.68" y="28.15"/><use href="#mg" x="437.59" y="28.05"/><use href="#mg" x="438.49" y="27.96"/><use href="#mg" x="439.4" y="27.87"/><use href="#mg" x="440.3" y="27.79"/><use href="#mg" x="441.21" y="27.72"/><use href="#mg" x="442.11" y="27.66"/><use href="#mg" x="443.02" y="27.61"/><use href="#mg" x="443.92" y="27.57"/><use href="#mg" x="444.83" y="27.53"/><use href="#mg" x="445.73" y="27.51"/><use href="#mg" x="446.64" y="27.5"/><use href="#mg" x="447.54" y="27.5"/><use href="#mg" x="448.45" y="27.51"/><use href="#mg" x="449.35" y="27.54"/><use href="#mg" x="450.26" y="27.57"/><use href="#mg" x="451.16" y="27.61"/><use href="#mg" x="452.06" y="27.67"/><use href="#mg" x="452.97" y="27.73"/><use href="#mg" x="453.87" y="27.79"/><use href="#mg" x="454.78" y="27.87"/><use href="#mg" x="455.68" y="27.95"/><use href="#mg" x="456.59" y="28.03"/><use href="#mg" x="457.49" y="28.12"/><use href="#mg" x="458.4" y="28.22"/><use href="#mg" x="459.3" y="28.31"/><use href="#mg" x="460.21" y="28.41"/><use href="#mg" x="461.11" y="28.51"/><use href="#mg" x="462.02" y="28.65"/><use href="#mg" x="462.92" y="28.83"/><use href="#mg" x="463.83" y="29.04"/><use href="#mg" x="464.73" y="29.27"/><use href="#mg" x="465.64" y="29.51"/><use href="#mg" x="466.54" y="29.76"/><use href="#mg" x="467.45" y="29.99"/><use href="#mg" x="468.35" y="30.2"/><use href="#mg" x="469.26" y="30.38"/><use href="#mg" x="470.16" y="30.52"/><use href="#mg" x="471.07" y="30.63"/><use href="#mg" x="471.97" y="30.73"/><use href="#mg" x="472.88" y="30.82"/><use href="#mg" x="473.78" y="30.9"/><use href="#mg" x="474.68" y="30.98"/><use href="#mg" x="475.59" y="31.04"/><use href="#mg" x="476.49" y="31.11"/><use href="#mg" x="477.4" y="31.18"/><use href="#mg" x="478.3" y="31.25"/><use href="#mg" x="479.21" y="31.31"/><use href="#mg" x="480.11" y="31.38"/><use href="#mg" x="481.02" y="31.43"/><use href="#mg" x="481.92" y="31.48"/><use href="#mg" x="482.83" y="31.53"/><use href="#mg" x="483.73" y="31.56"/><use href="#mg" x="484.64" y="31.59"/><use href="#mg" x="485.54" y="31.6"/><use href="#mg" x="486.45" y="31.6"/><use href="#mg" x="487.35" y="31.59"/><use href="#mg" x="488.26" y="31.57"/><use href="#mg" x="489.16" y="31.54"/><use href="#mg" x="490.07" y="31.51"/><use href="#mg" x="490.97" y="31.46"/><use href="#mg" x="491.88" y="31.41"/><use href="#mg" x="492.78" y="31.35"/><use href="#mg" x="493.69" y="31.27"/><use href="#mg" x="494.59" y="31.2"/><use href="#mg" x="495.5" y="31.11"/><use href="#mg" x="496.4" y="31.01"/><polyline fill="none" stroke="#ffff00" stroke-width="1" points="44,319.2 44.9,223.4 45.81,203.8 46.71,176.16 47.62,161.05 48.52,144.71 49.43,133.97 50.33,125.05 51.24,113.18 52.14,105.64 53.05,98.21 53.95,92.73 54.86,87.11 55.76,82.14 56.67,77.12 57.57,72.88 58.48,68.51 59.38,64.09 60.29,60.31 61.19,57.68 62.1,55.62 63,54.38 63.91,53.36 64.81,52.28 65.72,50.86 66.62,48.77 67.52,46.58 68.43,45.01 69.33,43.82 70.24,42.8 71.14,41.91 72.05,41.13 72.95,40.44 73.86,39.83 74.76,39.26 75.67,38.71 76.57,38.16 77.48,37.64 78.38,37.13 79.29,36.64 80.19,36.14 81.1,35.63 82,35.13 82.91,34.66 83.81,34.28 84.72,33.95 85.62,33.66 86.53,33.41 87.43,33.21 88.34,32.83 89.24,32.56 90.14,32.73 91.05,32.97 91.95,32.57 92.86,32.84 93.76,32.77 94.67,32.35 95.57,32.74 96.48,32.64 97.38,32.84 98.29,32.74 99.19,32.73 100.1,32.45 101,32.7 101.91,32.85 102.81,32.84 103.72,32.54 104.62,32.69 105.53,32.54 106.43,32.24 107.34,32.11 108.24,32.11 109.15,32.19 110.05,32.19 110.96,32.42 111.86,32.62 112.76,32.55 113.67,32.45 114.57,32.57 115.48,32.34 116.38,32.37 117.29,32.56 118.19,32.33 119.1,32.09 120,32.5 120.91,32.44 121.81,32.14 122.72,32.03 123.62,32.08 124.53,32.09 125.43,31.79 126.34,31.5 127.24,31.5 128.15,31.81 129.05,31.35 129.96,31.36 130.86,31.09 131.77,30.95 132.67,30.81 133.58,30.87 134.48,30.67 135.38,30.48 136.29,30.44 137.19,30.43 138.1,30.61 139,30.32 139.91,30.18 140.81,30.41 141.72,30.41 142.62,30.58 143.53,30.13 144.43,30.23 145.34,30.21 146.24,29.91 147.15,30.44 148.05,30.01 148.96,29.76 149.86,29.91 150.77,29.68 151.67,29.88 152.58,29.68 153.48,29.41 154.39,29.23 155.29,29.59 156.2,29.29 157.1,29.5 158,29.24 158.91,29.42 159.81,28.93 160.72,28.67 161.62,28.51 162.53,28.74 163.43,28.54 164.34,28.15 165.24,27.68 166.15,27.74 167.05,27.7 167.96,27.17 168.86,26.29 169.77,25.69 170.67,25.22 171.58,24.95 172.48,24.75 173.39,24.66 174.29,25.01 175.2,25.23 176.1,24.76 177.01,25.15 177.91,24.89 178.82,25.04 179.72,25.15 180.62,25.2 181.53,24.58 182.43,24.61 183.34,24.84 184.24,25.14 185.15,24.62 186.05,24.64 186.96,25.05 187.86,24.65 188.77,24.75 189.67,24.76 190.58,25.02 191.48,25.27 192.39,24.83 193.29,25.15 194.2,25.39 195.1,25.77 196.01,25.94 196.91,26.5 197.82,26.44 198.72,26.59 199.63,26.62 200.53,27.13 201.44,27.16 202.34,27.12 203.24,27.13 204.15,27.61 205.05,27.72 205.96,27.88 206.86,27.74 207.77,27.83 208.67,27.66 209.58,28.06 210.48,27.74 211.39,28.04 212.29,28.4 213.2,28.53 214.1,28.28 215.01,28.59 215.91,29.53 216.82,30.13 217.72,30.95 218.63,31.62 219.53,31.85 220.44,32.45 221.34,32.72 222.25,32.74 223.15,32.99 224.06,33.05 224.96,33.46 225.86,34.08 226.77,33.72 227.67,33.99 228.58,33.67 229.48,33.33 230.39,33.3 231.29,32.66 232.2,32.05 233.1,31.57 234.01,31.34 234.91,30.84 235.82,30.03 236.72,29.82 237.63,30.09 238.53,29.45 239.44,29.36 240.34,29.09 241.25,29.15 242.15,28.94 243.06,28.94 243.96,28.71 244.87,28.4 245.77,28.32 246.68,28.24 247.58,28.74 248.48,28.36 249.39,28.21 250.29,28.83 251.2,28.45 252.1,28.84 253.01,28.37 253.91,28.52 254.82,28.39 255.72,28.78 256.63,28.73 257.53,28.73 258.44,28.81 259.34,28.91 260.25,28.56 261.15,28.64 262.06,28.53 262.96,28.25 263.87,28.67 264.77,28.59 265.68,28.7 266.58,28.28 267.49,28.38 268.39,28.33 269.3,28.48 270.2,28.04 271.1,28.08 272.01,28.15 272.91,27.84 273.82,28.06 274.72,28.19 275.63,27.96 276.53,28.01 277.44,27.95 278.34,27.61 279.25,27.58 280.15,27.99 281.06,27.6 281.96,27.54 282.87,27.27 283.77,27.28 284.68,27.24 285.58,27.74 286.49,27.68 287.39,27.67 288.3,27.6 289.2,27.15 290.11,27.08 291.01,26.6 291.92,26.22 292.82,26.34 293.72,26.18 294.63,26 295.53,25.52 296.44,25.61 297.34,25.39 298.25,25.76 299.15,25.81 300.06,25.4 300.96,25.77 301.87,25.36 302.77,25.22 303.68,25.66 304.58,25.59 305.49,26.15 306.39,26.85 307.3,26.97 308.2,27.63 309.11,27.54 310.01,27.72 310.92,27.79 311.82,28.16 312.73,28.33 313.63,28.11 314.54,27.98 315.44,28.13 316.34,28.29 317.25,28.12 318.15,28.15 319.06,28.6 319.96,28.67 320.87,28.87 321.77,28.92 322.68,28.86 323.58,28.48 324.49,28.23 325.39,28.26 326.3,28.36 327.2,28.41 328.11,28.42 329.01,28.28 329.92,28.57 330.82,28.23 331.73,28.25 332.63,28.53 333.54,28.52 334.44,28.15 335.35,27.99 336.25,28.31 337.16,27.79 338.06,27.69 338.96,27.89 339.87,27.88 340.77,27.57 341.68,27.36 342.58,27.37 343.49,27.74 344.39,27.61 345.3,27.94 346.2,27.9 347.11,28.05 348.01,27.46 348.92,27.44 349.82,27.34 350.73,27.63 351.63,27.65 352.54,27.44 353.44,27.71 354.35,27.43 355.25,27.47 356.16,27.39 357.06,27.71 357.97,27.48 358.87,27.28 359.78,27.05 360.68,27.23 361.58,27.39 362.49,27.43 363.39,27.58 364.3,27.51 365.2,27.07 366.11,26.85 367.01,27.2 367.92,27.28 368.82,27.06 369.73,27.19 370.63,26.98 371.54,26.69 372.44,26.48 373.35,26.26 374.25,26.58 375.16,26.76 376.06,26.66 376.97,26.11 377.87,25.88 378.78,25.8 379.68,25.56 380.59,25.26 381.49,24.97 382.4,24.89 383.3,24.59 384.2,24.52 385.11,24.86 386.01,25.16 386.92,24.93 387.82,24.77 388.73,24.7 389.63,24.76 390.54,25.02 391.44,24.85 392.35,25.16 393.25,24.69 394.16,24.69 395.06,24.84 395.97,24.81 396.87,25.12 397.78,25.19 398.68,25.29 399.59,25.1 400.49,24.65 401.4,24.94 402.3,25 403.21,24.98 404.11,24.85 405.02,25.13 405.92,25.37 406.82,24.9 407.73,25.21 408.63,25.12 409.54,25.24 410.44,25.58 411.35,25.75 412.25,25.61 413.16,25.31 414.06,25.78 414.97,25.43 415.87,25.53 416.78,25.92 417.68,25.71 418.59,25.69 419.49,26.22 420.4,26.41 421.3,26.09 422.21,26.14 423.11,26.16 424.02,26.16 424.92,26.36 425.83,27.04 426.73,26.71 427.64,26.88 428.54,27.07 429.44,27.27 430.35,27.9 431.25,28.45 432.16,28.84 433.06,28.87 433.97,29.04 434.87,28.57 435.78,28.69 436.68,29.24 437.59,28.79 438.49,28.85 439.4,29.04 440.3,28.96 441.21,29.15 442.11,28.86 443.02,28.93 443.92,29.45 444.83,28.88 445.73,29.01 446.64,28.36 447.54,28.98 448.45,29.5 449.35,29.66 450.26,29.31 451.16,29.17 452.06,29.64 452.97,29.36 453.87,29.3 454.78,29.74 455.68,29.89 456.59,29.35 457.49,29.86 458.4,29.69 459.3,29.54 460.21,29.31 461.11,29.45 462.02,29.83 462.92,29.28 463.83,28.88 464.73,28.65 465.64,28.49 466.54,28.58 467.45,28.97 468.35,28.45 469.26,28.37 470.16,28.84 471.07,28.98 471.97,28.97 472.88,28.44 473.78,28.36 474.68,28.75 475.59,28.5 476.49,28.58 477.4,28.32 478.3,28.05 479.21,28.2 480.11,28.52 481.02,28.63 481.92,28.51 482.83,28.41 483.73,28.44 484.64,28.39 485.54,28.46 486.45,28.69 487.35,28.32 488.26,28.52 489.16,28.82 490.07,28.86 490.97,28.42 491.88,28.89 492.78,28.94 493.69,28.51 494.59,28.5 495.5,28.49 496.4,28.42"/><use href="#my" x="44" y="319.2"/><use href="#my" x="44.9" y="223.4"/><use href="#my" x="45.81" y="203.8"/><use href="#my" x="46.71" y="176.16"/><use href="#my" x="47.62" y="161.05"/><use href="#my" x="48.52" y="144.71"/><use href="#my" x="49.43" y="133.97"/><use href="#my" x="50.33" y="125.05"/><use href="#my" x="51.24" y="113.18"/><use href="#my" x="52.14" y="105.64"/><use href="#my" x="53.05" y="98.21"/><use href="#my" x="53.95" y="92.73"/><use href="#my" x="54.86" y="87.11"/><use href="#my" x="55.76" y="82.14"/><use href="#my" x="56.67" y="77.12"/><use href="#my" x="57.57" y="72.88"/><use href="#my" x="58.48" y="68.51"/><use href="#my" x="59.38" y="64.09"/><use href="#my" x="60.29" y="60.31"/><use href="#my" x="61.19" y="57.68"/><use href="#my" x="62.1" y="55.62"/><use href="#my" x="63" y="54.38"/><use href="#my" x="63.91" y="53.36"/><use href="#my" x="64.81" y="52.28"/><use href="#my" x="65.72" y="50.86"/><use href="#my" x="66.62" y="48.77"/><use href="#my" x="67.52" y="46.58"/><use href="#my" x="68.43" y="45.01"/><use href="#my" x="69.33" y="43.82"/><use href="#my" x="70.24" y="42.8"/><use href="#my" x="71.14" y="41.91"/><use href="#my" x="72.05" y="41.13"/><use href="#my" x="72.95" y="40.44"/><use href="#my" x="73.86" y="39.83"/><use href="#my" x="74.76" y="39.26"/><use href="#my" x="75.67" y="38.71"/><use href="#my" x="76.57" y="38.16"/><use href="#my" x="77.48" y="37.64"/><use href="#my" x="78.38" y="37.13"/><use href="#my" x="79.29" y="36.64"/><use href="#my" x="80.19" y="36.14"/><use href="#my" x="81.1" y="35.63"/><use href="#my" x="82" y="35.13"/><use href="#my" x="82.91" y="34.66"/><use href="#my" x="83.81" y="34.28"/><use href="#my" x="84.72" y="33.95"/><use href="#my" x="85.62" y="33.66"/><use href="#my" x="86.53" y="33.41"/><use href="#my" x="87.43" y="33.21"/><use href="#my" x="88.34" y="32.83"/><use href="#my" x="89.24" y="32.56"/><use href="#my" x="90.14" y="32.73"/><use href="#my" x="91.05" y="32.97"/><use href="#my" x="91.95" y="32.57"/><use href="#my" x="92.86" y="32.84"/><use href="#my" x="93.76" y="32.77"/><use href="#my" x="94.67" y="32.35"/><use href="#my" x="95.57" y="32.74"/><use href="#my" x="96.48" y="32.64"/><use href="#my" x="97.38" y="32.84"/><use href="#my" x="98.29" y="32.74"/><use href="#my" x="99.19" y="32.73"/><use href="#my" x="100.1" y="32.45"/><use href="#my" x="101" y="32.7"/><use href="#my" x="101.91" y="32.85"/><use href="#my" x="102.81" y="32.84"/><use href="#my" x="103.72" y="32.54"/><use href="#my" x="104.62" y="32.69"/><use href="#my" x="105.53" y="32.54"/><use href="#my" x="106.43" y="32.24"/><use href="#my" x="107.34" y="32.11"/><use href="#my" x="108.24" y="32.11"/><use href="#my" x="109.15" y="32.19"/><use href="#my" x="110.05" y="32.19"/><use href="#my" x="110.96" y="32.42"/><use href="#my" x="111.86" y="32.62"/><use href="#my" x="112.76" y="32.55"/><use href="#my" x="113.67" y="32.45"/><use href="#my" x="114.57" y="32.57"/><use href="#my" x="115.48" y="32.34"/><use href="#my" x="116.38" y="32.37"/><use href="#my" x="117.29" y="32.56"/><use href="#my" x="118.19" y="32.33"/><use href="#my" x="119.1" y="32.09"/><use href="#my" x="120" y="32.5"/><use href="#my" x="120.91" y="32.44"/><use href="#my" x="121.81" y="32.14"/><use href="#my" x="122.72" y="32.03"/><use href="#my" x="123.62" y="32.08"/><use href="#my" x="124.53" y="32.09"/><use href="#my" x="125.43" y="31.79"/><use href="#my" x="126.34" y="31.5"/><use href="#my" x="127.24" y="31.5"/><use href="#my" x="128.15" y="31.81"/><use href="#my" x="129.05" y="31.35"/><use href="#my" x="129.96" y="31.36"/><use href="#my" x="130.86" y="31.09"/><use href="#my" x="131.77" y="30.95"/><use href="#my" x="132.67" y="30.81"/><use href="#my" x="133.58" y="30.87"/><use href="#my" x="134.48" y="30.67"/><use href="#my" x="135.38" y="30.48"/><use href="#my" x="136.29" y="30.44"/><use href="#my" x="137.19" y="30.43"/><use href="#my" x="138.1" y="30.61"/><use href="#my" x="139" y="30.32"/><use href="#my" x="139.91" y="30.18"/><use href="#my" x="140.81" y="30.41"/><use href="#my" x="141.72" y="30.41"/><use href="#my" x="142.62" y="30.58"/><use href="#my" x="143.53" y="30.13"/><use href="#my" x="144.43" y="30.23"/><use href="#my" x="145.34" y="30.21"/><use href="#my" x="146.24" y="29.91"/><use href="#my" x="147.15" y="30.44"/><use href="#my" x="148.05" y="30.01"/><use href="#my" x="148.96" y="29.76"/><use href="#my" x="149.86" y="29.91"/><use href="#my" x="150.77" y="29.68"/><use href="#my" x="151.67" y="29.88"/><use href="#my" x="152.58" y="29.68"/><use href="#my" x="153.48" y="29.41"/><use href="#my" x="154.39" y="29.23"/><use href="#my" x="155.29" y="29.59"/><use href="#my" x="156.2" y="29.29"/><use href="#my" x="157.1" y="29.5"/><use href="#my" x="158" y="29.24"/><use href="#my" x="158.91" y="29.42"/><use href="#my" x="159.81" y="28.93"/><use href="#my" x="160.72" y="28.67"/><use href="#my" x="161.62" y="28.51"/><use href="#my" x="162.53" y="28.74"/><use href="#my" x="163.43" y="28.54"/><use href="#my" x="164.34" y="28.15"/><use href="#my" x="165.24" y="27.68"/><use href="#my" x="166.15" y="27.74"/><use href="#my" x="167.05" y="27.7"/><use href="#my" x="167.96" y="27.17"/><use href="#my" x="168.86" y="26.29"/><use href="#my" x="169.77" y="25.69"/><use href="#my" x="170.67" y="25.22"/><use href="#my" x="171.58" y="24.95"/><use href="#my" x="172.48" y="24.75"/><use href="#my" x="173.39" y="24.66"/><use href="#my" x="174.29" y="25.01"/><use href="#my" x="175.2" y="25.23"/><use href="#my" x="176.1" y="24.76"/><use href="#my" x="177.01" y="25.15"/><use href="#my" x="177.91" y="24.89"/><use href="#my" x="178.82" y="25.04"/><use href="#my" x="179.72" y="25.15"/><use href="#my" x="180.62" y="25.2"/><use href="#my" x="181.53" y="24.58"/><use href="#my" x="182.43" y="24.61"/><use href="#my" x="183.34" y="24.84"/><use href="#my" x="184.24" y="25.14"/><use href="#my" x="185.15" y="24.62"/><use href="#my" x="186.05" y="24.64"/><use href="#my" x="186.96" y="25.05"/><use href="#my" x="187.86" y="24.65"/><use href="#my" x="188.77" y="24.75"/><use href="#my" x="189.67" y="24.76"/><use href="#my" x="190.58" y="25.02"/><use href="#my" x="191.48" y="25.27"/><use href="#my" x="192.39" y="24.83"/><use href="#my" x="193.29" y="25.15"/><use href="#my" x="194.2" y="25.39"/><use href="#my" x="195.1" y="25.77"/><use href="#my" x="196.01" y="25.94"/><use href="#my" x="196.91" y="26.5"/><use href="#my" x="197.82" y="26.44"/><use href="#my" x="198.72" y="26.59"/><use href="#my" x="199.63" y="26.62"/><use href="#my" x="200.53" y="27.13"/><use href="#my" x="201.44" y="27.16"/><use href="#my" x="202.34" y="27.12"/><use href="#my" x="203.24" y="27.13"/><use href="#my" x="204.15" y="27.61"/><use href="#my" x="205.05" y="27.72"/><use href="#my" x="205.96" y="27.88"/><use href="#my" x="206.86" y="27.74"/><use href="#my" x="207.77" y="27.83"/><use href="#my" x="208.67" y="27.66"/><use href="#my" x="209.58" y="28.06"/><use href="#my" x="210.48" y="27.74"/><use href="#my" x="211.39" y="28.04"/><use href="#my" x="212.29" y="28.4"/><use href="#my" x="213.2" y="28.53"/><use href="#my" x="214.1" y="28.28"/><use href="#my" x="215.01" y="28.59"/><use href="#my" x="215.91" y="29.53"/><use href="#my" x="216.82" y="30.13"/><use href="#my" x="217.72" y="30.95"/><use href="#my" x="218.63" y="31.62"/><use href="#my" x="219.53" y="31.85"/><use href="#my" x="220.44" y="32.45"/><use href="#my" x="221.34" y="32.72"/><use href="#my" x="222.25" y="32.74"/><use href="#my" x="223.15" y="32.99"/><use href="#my" x="224.06" y="33.05"/><use href="#my" x="224.96" y="33.46"/><use href="#my" x="225.86" y="34.08"/><use href="#my" x="226.77" y="33.72"/><use href="#my" x="227.67" y="33.99"/><use href="#my" x="228.58" y="33.67"/><use href="#my" x="229.48" y="33.33"/><use href="#my" x="230.39" y="33.3"/><use href="#my" x="231.29" y="32.66"/><use href="#my" x="232.2" y="32.05"/><use href="#my" x="233.1" y="31.57"/><use href="#my" x="234.01" y="31.34"/><use href="#my" x="234.91" y="30.84"/><use href="#my" x="235.82" y="30.03"/><use href="#my" x="236.72" y="29.82"/><use href="#my" x="237.63" y="30.09"/><use href="#my" x="238.53" y="29.45"/><use href="#my" x="239.44" y="29.36"/><use href="#my" x="240.34" y="29.09"/><use href="#my" x="241.25" y="29.15"/><use href="#my" x="242.15" y="28.94"/><use href="#my" x="243.06" y="28.94"/><use href="#my" x="243.96" y="28.71"/><use href="#my" x="244.87" y="28.4"/><use href="#my" x="245.77" y="28.32"/><use href="#my" x="246.68" y="28.24"/><use href="#my" x="247.58" y="28.74"/><use href="#my" x="248.48" y="28.36"/><use href="#my" x="249.39" y="28.21"/><use href="#my" x="250.29" y="28.83"/><use href="#my" x="251.2" y="28.45"/><use href="#my" x="252.1" y="28.84"/><use href="#my" x="253.01" y="28.37"/><use href="#my" x="253.91" y="28.52"/><use href="#my" x="254.82" y="28.39"/><use href="#my" x="255.72" y="28.78"/><use href="#my" x="256.63" y="28.73"/><use href="#my" x="257.53" y="28.73"/><use href="#my" x="258.44" y="28.81"/><use href="#my" x="259.34" y="28.91"/><use href="#my" x="260.25" y="28.56"/><use href="#my" x="261.15" y="28.64"/><use href="#my" x="262.06" y="28.53"/><use href="#my" x="262.96" y="28.25"/><use href="#my" x="263.87" y="28.67"/><use href="#my" x="264.77" y="28.59"/><use href="#my" x="265.68" y="28.7"/><use href="#my" x="266.58" y="28.28"/><use href="#my" x="267.49" y="28.38"/><use href="#my" x="268.39" y="28.33"/><use href="#my" x="269.3" y="28.48"/><use href="#my" x="270.2" y="28.04"/><use href="#my" x="271.1" y="28.08"/><use href="#my" x="272.01" y="28.15"/><use href="#my" x="272.91" y="27.84"/><use href="#my" x="273.82" y="28.06"/><use href="#my" x="274.72" y="28.19"/><use href="#my" x="275.63" y="27.96"/><use href="#my" x="276.53" y="28.01"/><use href="#my" x="277.44" y="27.95"/><use href="#my" x="278.34" y="27.61"/><use href="#my" x="279.25" y="27.58"/><use href="#my" x="280.15" y="27.99"/><use href="#my" x="281.06" y="27.6"/><use href="#my" x="281.96" y="27.54"/><use href="#my" x="282.87" y="27.27"/><use href="#my" x="283.77" y="27.28"/><use href="#my" x="284.68" y="27.24"/><use href="#my" x="285.58" y="27.74"/><use href="#my" x="286.49" y="27.68"/><use href="#my" x="287.39" y="27.67"/><use href="#my" x="288.3" y="27.6"/><use href="#my" x="289.2" y="27.15"/><use href="#my" x="290.11" y="27.08"/><use href="#my" x="291.01" y="26.6"/><use href="#my" x="291.92" y="26.22"/><use href="#my" x="292.82" y="26.34"/><use href="#my" x="293.72" y="26.18"/><use href="#my" x="294.63" y="26"/><use href="#my" x="295.53" y="25.52"/><use href="#my" x="296.44" y="25.61"/><use href="#my" x="297.34" y="25.39"/><use href="#my" x="298.25" y="25.76"/><use href="#my" x="299.15" y="25.81"/><use href="#my" x="300.06" y="25.4"/><use href="#my" x="300.96" y="25.77"/><use href="#my" x="301.87" y="25.36"/><use href="#my" x="302.77" y="25.22"/><use href="#my" x="303.68" y="25.66"/><use href="#my" x="304.58" y="25.59"/><use href="#my" x="305.49" y="26.15"/><use href="#my" x="306.39" y="26.85"/><use href="#my" x="307.3" y="26.97"/><use href="#my" x="308.2" y="27.63"/><use href="#my" x="309.11" y="27.54"/><use href="#my" x="310.01" y="27.72"/><use href="#my" x="310.92" y="27.79"/><use href="#my" x="311.82" y="28.16"/><use href="#my" x="312.73" y="28.33"/><use href="#my" x="313.63" y="28.11"/><use href="#my" x="314.54" y="27.98"/><use href="#my" x="315.44" y="28.13"/><use href="#my" x="316.34" y="28.29"/><use href="#my" x="317.25" y="28.12"/><use href="#my" x="318.15" y="28.15"/><use href="#my" x="319.06" y="28.6"/><use href="#my" x="319.96" y="28.67"/><use href="#my" x="320.87" y="28.87"/><use href="#my" x="321.77" y="28.92"/><use href="#my" x="322.68" y="28.86"/><use href="#my" x="323.58" y="28.48"/><use href="#my" x="324.49" y="28.23"/><use href="#my" x="325.39" y="28.26"/><use href="#my" x="326.3" y="28.36"/><use href="#my" x="327.2" y="28.41"/><use href="#my" x="328.11" y="28.42"/><use href="#my" x="329.01" y="28.28"/><use href="#my" x="329.92" y="28.57"/><use href="#my" x="330.82" y="28.23"/><use href="#my" x="331.73" y="28.25"/><use href="#my" x="332.63" y="28.53"/><use href="#my" x="333.54" y="28.52"/><use href="#my" x="334.44" y="28.15"/><use href="#my" x="335.35" y="27.99"/><use href="#my" x="336.25" y="28.31"/><use href="#my" x="337.16" y="27.79"/><use href="#my" x="338.06" y="27.69"/><use href="#my" x="338.96" y="27.89"/><use href="#my" x="339.87" y="27.88"/><use href="#my" x="340.77" y="27.57"/><use href="#my" x="341.68" y="27.36"/><use href="#my" x="342.58" y="27.37"/><use href="#my" x="343.49" y="27.74"/><use href="#my" x="344.39" y="27.61"/><use href="#my" x="345.3" y="27.94"/><use href="#my" x="346.2" y="27.9"/><use href="#my" x="347.11" y="28.05"/><use href="#my" x="348.01" y="27.46"/><use href="#my" x="348.92" y="27.44"/><use href="#my" x="349.82" y="27.34"/><use href="#my" x="350.73" y="27.63"/><use href="#my" x="351.63" y="27.65"/><use href="#my" x="352.54" y="27.44"/><use href="#my" x="353.44" y="27.71"/><use href="#my" x="354.35" y="27.43"/><use href="#my" x="355.25" y="27.47"/><use href="#my" x="356.16" y="27.39"/><use href="#my" x="357.06" y="27.71"/><use href="#my" x="357.97" y="27.48"/><use href="#my" x="358.87" y="27.28"/><use href="#my" x="359.78" y="27.05"/><use href="#my" x="360.68" y="27.23"/><use href="#my" x="361.58" y="27.39"/><use href="#my" x="362.49" y="27.43"/><use href="#my" x="363.39" y="27.58"/><use href="#my" x="364.3" y="27.51"/><use href="#my" x="365.2" y="27.07"/><use href="#my" x="366.11" y="26.85"/><use href="#my" x="367.01" y="27.2"/><use href="#my" x="367.92" y="27.28"/><use href="#my" x="368.82" y="27.06"/><use href="#my" x="369.73" y="27.19"/><use href="#my" x="370.63" y="26.98"/><use href="#my" x="371.54" y="26.69"/><use href="#my" x="372.44" y="26.48"/><use href="#my" x="373.35" y="26.26"/><use href="#my" x="374.25" y="26.58"/><use href="#my" x="375.16" y="26.76"/><use href="#my" x="376.06" y="26.66"/><use href="#my" x="376.97" y="26.11"/><use href="#my" x="377.87" y="25.88"/><use href="#my" x="378.78" y="25.8"/><use href="#my" x="379.68" y="25.56"/><use href="#my" x="380.59" y="25.26"/><use href="#my" x="381.49" y="24.97"/><use href="#my" x="382.4" y="24.89"/><use href="#my" x="383.3" y="24.59"/><use href="#my" x="384.2" y="24.52"/><use href="#my" x="385.11" y="24.86"/><use href="#my" x="386.01" y="25.16"/><use href="#my" x="386.92" y="24.93"/><use href="#my" x="387.82" y="24.77"/><use href="#my" x="388.73" y="24.7"/><use href="#my" x="389.63" y="24.76"/><use href="#my" x="390.54" y="25.02"/><use href="#my" x="391.44" y="24.85"/><use href="#my" x="392.35" y="25.16"/><use href="#my" x="393.25" y="24.69"/><use href="#my" x="394.16" y="24.69"/><use href="#my" x="395.06" y="24.84"/><use href="#my" x="395.97" y="24.81"/><use href="#my" x="396.87" y="25.12"/><use href="#my" x="397.78" y="25.19"/><use href="#my" x="398.68" y="25.29"/><use href="#my" x="399.59" y="25.1"/><use href="#my" x="400.49" y="24.65"/><use href="#my" x="401.4" y="24.94"/><use href="#my" x="402.3" y="25"/><use href="#my" x="403.21" y="24.98"/><use href="#my" x="404.11" y="24.85"/><use href="#my" x="405.02" y="25.13"/><use href="#my" x="405.92" y="25.37"/><use href="#my" x="406.82" y="24.9"/><use href="#my" x="407.73" y="25.21"/><use href="#my" x="408.63" y="25.12"/><use href="#my" x="409.54" y="25.24"/><use href="#my" x="410.44" y="25.58"/><use href="#my" x="411.35" y="25.75"/><use href="#my" x="412.25" y="25.61"/><use href="#my" x="413.16" y="25.31"/><use href="#my" x="414.06" y="25.78"/><use href="#my" x="414.97" y="25.43"/><use href="#my" x="415.87" y="25.53"/><use href="#my" x="416.78" y="25.92"/><use href="#my" x="417.68" y="25.71"/><use href="#my" x="418.59" y="25.69"/><use href="#my" x="419.49" y="26.22"/><use href="#my" x="420.4" y="26.41"/><use href="#my" x="421.3" y="26.09"/><use href="#my" x="422.21" y="26.14"/><use href="#my" x="423.11" y="26.16"/><use href="#my" x="424.02" y="26.16"/><use href="#my" x="424.92" y="26.36"/><use href="#my" x="425.83" y="27.04"/><use href="#my" x="426.73" y="26.71"/><use href="#my" x="427.64" y="26.88"/><use href="#my" x="428.54" y="27.07"/><use href="#my" x="429.44" y="27.27"/><use href="#my" x="430.35" y="27.9"/><use href="#my" x="431.25" y="28.45"/><use href="#my" x="432.16" y="28.84"/><use href="#my" x="433.06" y="28.87"/><use href="#my" x="433.97" y="29.04"/><use href="#my" x="434.87" y="28.57"/><use href="#my" x="435.78" y="28.69"/><use href="#my" x="436.68" y="29.24"/><use href="#my" x="437.59" y="28.79"/><use href="#my" x="438.49" y="28.85"/><use href="#my" x="439.4" y="29.04"/><use href="#my" x="440.3" y="28.96"/><use href="#my" x="441.21" y="29.15"/><use href="#my" x="442.11" y="28.86"/><use href="#my" x="443.02" y="28.93"/><use href="#my" x="443.92" y="29.45"/><use href="#my" x="444.83" y="28.88"/><use href="#my" x="445.73" y="29.01"/><use href="#my" x="446.64" y="28.36"/><use href="#my" x="447.54" y="28.98"/><use href="#my" x="448.45" y="29.5"/><use href="#my" x="449.35" y="29.66"/><use href="#my" x="450.26" y="29.31"/><use href="#my" x="451.16" y="29.17"/><use href="#my" x="452.06" y="29.64"/><use href="#my" x="452.97" y="29.36"/><use href="#my" x="453.87" y="29.3"/><use href="#my" x="454.78" y="29.74"/><use href="#my" x="455.68" y="29.89"/><use href="#my" x="456.59" y="29.35"/><use href="#my" x="457.49" y="29.86"/><use href="#my" x="458.4" y="29.69"/><use href="#my" x="459.3" y="29.54"/><use href="#my" x="460.21" y="29.31"/><use href="#my" x="461.11" y="29.45"/><use href="#my" x="462.02" y="29.83"/><use href="#my" x="462.92" y="29.28"/><use href="#my" x="463.83" y="28.88"/><use href="#my" x="464.73" y="28.65"/><use href="#my" x="465.64" y="28.49"/><use href="#my" x="466.54" y="28.58"/><use href="#my" x="467.45" y="28.97"/><use href="#my" x="468.35" y="28.45"/><use href="#my" x="469.26" y="28.37"/><use href="#my" x="470.16" y="28.84"/><use href="#my" x="471.07" y="28.98"/><use href="#my" x="471.97" y="28.97"/><use href="#my" x="472.88" y="28.44"/><use href="#my" x="473.78" y="28.36"/><use href="#my" x="474.68" y="28.75"/><use href="#my" x="475.59" y="28.5"/><use href="#my" x="476.49" y="28.58"/><use href="#my" x="477.4" y="28.32"/><use href="#my" x="478.3" y="28.05"/><use href="#my" x="479.21" y="28.2"/><use href="#my" x="480.11" y="28.52"/><use href="#my" x="481.02" y="28.63"/><use href="#my" x="481.92" y="28.51"/><use href="#my" x="482.83" y="28.41"/><use href="#my" x="483.73" y="28.44"/><use href="#my" x="484.64" y="28.39"/><use href="#my" x="485.54" y="28.46"/><use href="#my" x="486.45" y="28.69"/><use href="#my" x="487.35" y="28.32"/><use href="#my" x="488.26" y="28.52"/><use href="#my" x="489.16" y="28.82"/><use href="#my" x="490.07" y="28.86"/><use href="#my" x="490.97" y="28.42"/><use href="#my" x="491.88" y="28.89"/><use href="#my" x="492.78" y="28.94"/><use href="#my" x="493.69" y="28.51"/><use href="#my" x="494.59" y="28.5"/><use href="#my" x="495.5" y="28.49"/><use href="#my" x="496.4" y="28.42"/><polyline fill="none" stroke="#ff0000" stroke-width="1" points="44,319.2 44.9,81.27 45.81,131.78 46.71,83.57 47.62,93.57 48.52,73.86 49.43,68.43 50.33,64.31 51.24,61.26 52.14,58.64 53.05,56.38 53.95,53.95 54.86,51.35 55.76,48.98 56.67,47.17 57.57,45.36 58.48,43.55 59.38,41.99 60.29,40.54 61.19,39.09 62.1,37.78 63,36.7 63.91,35.61 64.81,34.53 65.72,33.66 66.62,32.84 67.52,31.71 68.43,32.19 69.33,34.71 70.24,31.93 71.14,27.72 72.05,30.58 72.95,29.49 73.86,29.96 74.76,28.83 75.67,30.05 76.57,30.25 77.48,28.13 78.38,27.81 79.29,28.07 80.19,30.4 81.1,29.51 82,29.88 82.91,29.01 83.81,29.26 84.72,28.77 85.62,28.32 86.53,28.64 87.43,28.48 88.34,29.19 89.24,28.6 90.14,29.15 91.05,29.08 91.95,29.44 92.86,28.59 93.76,26.9 94.67,28.49 95.57,29.18 96.48,29.18 97.38,28.2 98.29,28.37 99.19,26.95 100.1,28.4 101,28.02 101.91,27.11 102.81,26.27 103.72,28.4 104.62,29.36 105.53,27.04 106.43,28.59 107.34,27.9 108.24,27.04 109.15,27.3 110.05,28.8 110.96,29.54 111.86,27.38 112.76,28.55 113.67,27.24 114.57,28.91 115.48,28.24 116.38,29.7 117.29,30.37 118.19,29.17 119.1,30.3 120,28.55 120.91,27.38 121.81,28.52 122.72,27.06 123.62,27.07 124.53,27.57 125.43,28.15 126.34,26.86 127.24,26.08 128.15,28.16 129.05,26.96 129.96,28.43 130.86,28.54 131.77,27 132.67,26.82 133.58,26.93 134.48,27.33 135.38,27.3 136.29,27.2 137.19,27.38 138.1,28.38 139,27.4 139.91,26.97 140.81,27.73 141.72,26.56 142.62,26.49 143.53,28.47 144.43,27.67 145.34,27.58 146.24,26.03 147.15,26.84 148.05,27.54 148.96,26.11 149.86,27.49 150.77,27.89 151.67,26.34 152.58,27.6 153.48,27.46 154.39,28.05 155.29,27.25 156.2,28.09 157.1,28.39 158,26.4 158.91,26.01 159.81,27.71 160.72,28.97 161.62,27.22 162.53,27.38 163.43,27.81 164.34,27.13 165.24,27.08 166.15,26.92 167.05,27.03 167.96,27.7 168.86,27 169.77,27.02 170.67,28.16 171.58,26.26 172.48,27.33 173.39,28.05 174.29,26.97 175.2,26.42 176.1,27.94 177.01,26.65 177.91,26.14 178.82,26.7 179.72,27.57 180.62,26.03 181.53,26.22 182.43,26.24 183.34,27.62 184.24,26.73 185.15,27.63 186.05,25.76 186.96,25.68 187.86,26.47 188.77,27.24 189.67,26.08 190.58,25.04 191.48,24.39 192.39,25.32 193.29,24.5 194.2,26.02 195.1,26.44 196.01,24.61 196.91,24.41 197.82,25.89 198.72,25.8 199.63,26.3 200.53,25.15 201.44,24.31 202.34,24.67 203.24,26.32 204.15,25.33 205.05,25.42 205.96,25.78 206.86,26.01 207.77,26.16 208.67,27.81 209.58,26.13 210.48,25.39 211.39,28.04 212.29,28.61 213.2,29.15 214.1,27.76 215.01,28.97 215.91,29.28 216.82,27.39 217.72,28.5 218.63,29.12 219.53,28.84 220.44,28.42 221.34,27.71 222.25,27.74 223.15,27.47 224.06,26.98 224.96,28.4 225.86,27.91 226.77,29.32 227.67,27.46 228.58,29.48 229.48,29.37 230.39,29.98 231.29,30.03 232.2,30.01 233.1,29.03 234.01,27.11 234.91,28.7 235.82,27.39 236.72,27.38 237.63,28.39 238.53,28.19 239.44,27.77 240.34,29.14 241.25,28.5 242.15,27.52 243.06,26.99 243.96,28.61 244.87,27.88 245.77,28.57 246.68,27.48 247.58,26.75 248.48,27.53 249.39,28.53 250.29,26.89 251.2,28.27 252.1,28.98 253.01,28.81 253.91,28.81 254.82,26.43 255.72,27.63 256.63,28.6 257.53,26.48 258.44,26.59 259.34,26.6 260.25,27.36 261.15,27.24 262.06,27.36 262.96,28.27 263.87,26.26 264.77,25.92 265.68,26.05 266.58,26.09 267.49,25.96 268.39,28.56 269.3,28.88 270.2,26.75 271.1,27.44 272.01,27.09 272.91,27.01 273.82,27.11 274.72,28 275.63,28.06 276.53,27.42 277.44,26.77 278.34,27.01 279.25,26.47 280.15,27.59 281.06,28.34 281.96,27.55 282.87,26.48 283.77,26.5 284.68,27.07 285.58,27.88 286.49,28.6 287.39,27.62 288.3,28.59 289.2,28.32 290.11,27.69 291.01,27.37 291.92,27.64 292.82,28.31 293.72,27.67 294.63,28.31 295.53,27.81 296.44,27.08 297.34,27.76 298.25,28.41 299.15,26.79 300.06,27.43 300.96,27.61 301.87,29 302.77,29.53 303.68,28.05 304.58,29.21 305.49,29.21 306.39,27.68 307.3,27.89 308.2,26.96 309.11,28.72 310.01,28.72 310.92,29.36 311.82,29.23 312.73,28.82 313.63,28.89 314.54,28.4 315.44,26.92 316.34,27.93 317.25,26.47 318.15,26.48 319.06,28.29 319.96,26.59 320.87,26.28 321.77,26.2 322.68,28.42 323.58,26.92 324.49,26.07 325.39,28.21 326.3,26.64 327.2,28.32 328.11,28.23 329.01,28.66 329.92,29.09 330.82,28.09 331.73,28.46 332.63,26.33 333.54,27.9 334.44,27.53 335.35,28.01 336.25,26.34 337.16,27.77 338.06,28.64 338.96,26.3 339.87,26.45 340.77,27.15 341.68,28.07 342.58,26.56 343.49,25.95 344.39,25.93 345.3,26.92 346.2,27.48 347.11,26.49 348.01,26.08 348.92,25.98 349.82,25.73 350.73,25.79 351.63,24.76 352.54,25.64 353.44,27.19 354.35,25.91 355.25,26.54 356.16,25 357.06,26.17 357.97,26.68 358.87,26.6 359.78,26.18 360.68,26.03 361.58,26.52 362.49,27.44 363.39,25.57 364.3,25.02 365.2,26.84 366.11,27.85 367.01,27.01 367.92,26.64 368.82,27.39 369.73,26.07 370.63,26.01 371.54,25.81 372.44,26.88 373.35,26.34 374.25,25.92 375.16,27.09 376.06,28.07 376.97,26.34 377.87,27.01 378.78,26.25 379.68,27.26 380.59,26.65 381.49,25.52 382.4,25.04 383.3,24.32 384.2,25.44 385.11,25.45 386.01,24.88 386.92,25.36 387.82,25.46 388.73,26.91 389.63,25.56 390.54,27.82 391.44,27.03 392.35,27.3 393.25,27.11 394.16,28.22 395.06,28.55 395.97,27.91 396.87,27.56 397.78,28.16 398.68,28.7 399.59,27.51 400.49,28.18 401.4,29 402.3,27.78 403.21,26.79 404.11,26.55 405.02,27.89 405.92,28.11 406.82,28.98 407.73,28.9 408.63,27.1 409.54,26.5 410.44,26.55 411.35,26.36 412.25,27.82 413.16,28.64 414.06,28.98 414.97,27.2 415.87,28.54 416.78,27.28 417.68,27.29 418.59,28.18 419.49,26.55 420.4,26.15 421.3,28.19 422.21,27.09 423.11,26.97 424.02,27.53 424.92,27.89 425.83,25.98 426.73,26.39 427.64,26.71 428.54,26.87 429.44,26.04 430.35,26.86 431.25,28.08 432.16,26.69 433.06,26.74 433.97,25.49 434.87,25.6 435.78,26.75 436.68,25.44 437.59,27.36 438.49,27.92 439.4,25.72 440.3,27.63 441.21,26.48 442.11,27.37 443.02,27.57 443.92,26.3 444.83,27.11 445.73,27.28 446.64,27.78 447.54,26.36 448.45,27.44 449.35,28.33 450.26,27.73 451.16,27.2 452.06,25.85 452.97,26.62 453.87,26.4 454.78,27.4 455.68,27.52 456.59,27.2 457.49,25.98 458.4,26.98 459.3,27.16 460.21,25.86 461.11,27.57 462.02,27.28 462.92,25.64 463.83,27.56 464.73,25.73 465.64,25.82 466.54,26.98 467.45,26.98 468.35,26.96 469.26,27.35 470.16,27.03 471.07,26.67 471.97,26.31 472.88,26.01 473.78,27.89 474.68,28.5 475.59,28.01 476.49,28.42 477.4,27.34 478.3,26.71 479.21,26.79 480.11,28.11 481.02,25.93 481.92,26.61 482.83,25.94 483.73,27.21 484.64,26.27 485.54,25.95 486.45,26.08 487.35,26.54 488.26,27.35 489.16,26.38 490.07,27.63 490.97,25.89 491.88,26 492.78,25.63 493.69,25.68 494.59,27.75 495.5,28.26 496.4,26.96"/><use href="#mr" x="44" y="319.2"/><use href="#mr" x="44.9" y="81.27"/><use href="#mr" x="45.81" y="131.78"/><use href="#mr" x="46.71" y="83.57"/><use href="#mr" x="47.62" y="93.57"/><use href="#mr" x="48.52" y="73.86"/><use href="#mr" x="49.43" y="68.43"/><use href="#mr" x="50.33" y="64.31"/><use href="#mr" x="51.24" y="61.26"/><use href="#mr" x="52.14" y="58.64"/><use href="#mr" x="53.05" y="56.38"/><use href="#mr" x="53.95" y="53.95"/><use href="#mr" x="54.86" y="51.35"/><use href="#mr" x="55.76" y="48.98"/><use href="#mr" x="56.67" y="47.17"/><use href="#mr" x="57.57" y="45.36"/><use href="#mr" x="58.48" y="43.55"/><use href="#mr" x="59.38" y="41.99"/><use href="#mr" x="60.29" y="40.54"/><use href="#mr" x="61.19" y="39.09"/><use href="#mr" x="62.1" y="37.78"/><use href="#mr" x="63" y="36.7"/><use href="#mr" x="63.91" y="35.61"/><use href="#mr" x="64.81" y="34.53"/><use href="#mr" x="65.72" y="33.66"/><use href="#mr" x="66.62" y="32.84"/><use href="#mr" x="67.52" y="31.71"/><use href="#mr" x="68.43" y="32.19"/><use href="#mr" x="69.33" y="34.71"/><use href="#mr" x="70.24" y="31.93"/><use href="#mr" x="71.14" y="27.72"/><use href="#mr" x="72.05" y="30.58"/><use href="#mr" x="72.95" y="29.49"/><use href="#mr" x="73.86" y="29.96"/><use href="#mr" x="74.76" y="28.83"/><use href="#mr" x="75.67" y="30.05"/><use href="#mr" x="76.57" y="30.25"/><use href="#mr" x="77.48" y="28.13"/><use href="#mr" x="78.38" y="27.81"/><use href="#mr" x="79.29" y="28.07"/><use href="#mr" x="80.19" y="30.4"/><use href="#mr" x="81.1" y="29.51"/><use href="#mr" x="82" y="29.88"/><use href="#mr" x="82.91" y="29.01"/><use href="#mr" x="83.81" y="29.26"/><use href="#mr" x="84.72" y="28.77"/><use href="#mr" x="85.62" y="28.32"/><use href="#mr" x="86.53" y="28.64"/><use href="#mr" x="87.43" y="28.48"/><use href="#mr" x="88.34" y="29.19"/><use href="#mr" x="89.24" y="28.6"/><use href="#mr" x="90.14" y="29.15"/><use href="#mr" x="91.05" y="29.08"/><use href="#mr" x="91.95" y="29.44"/><use href="#mr" x="92.86" y="28.59"/><use href="#mr" x="93.76" y="26.9"/><use href="#mr" x="94.67" y="28.49"/><use href="#mr" x="95.57" y="29.18"/><use href="#mr" x="96.48" y="29.18"/><use href="#mr" x="97.38" y="28.2"/><use href="#mr" x="98.29" y="28.37"/><use href="#mr" x="99.19" y="26.95"/><use href="#mr" x="100.1" y="28.4"/><use href="#mr" x="101" y="28.02"/><use href="#mr" x="101.91" y="27.11"/><use href="#mr" x="102.81" y="26.27"/><use href="#mr" x="103.72" y="28.4"/><use href="#mr" x="104.62" y="29.36"/><use href="#mr" x="105.53" y="27.04"/><use href="#mr" x="106.43" y="28.59"/><use href="#mr" x="107.34" y="27.9"/><use href="#mr" x="108.24" y="27.04"/><use href="#mr" x="109.15" y="27.3"/><use href="#mr" x="110.05" y="28.8"/><use href="#mr" x="110.96" y="29.54"/><use href="#mr" x="111.86" y="27.38"/><use href="#mr" x="112.76" y="28.55"/><use href="#mr" x="113.67" y="27.24"/><use href="#mr" x="114.57" y="28.91"/><use href="#mr" x="115.48" y="28.24"/><use href="#mr" x="116.38" y="29.7"/><use href="#mr" x="117.29" y="30.37"/><use href="#mr" x="118.19" y="29.17"/><use href="#mr" x="119.1" y="30.3"/><use href="#mr" x="120" y="28.55"/><use href="#mr" x="120.91" y="27.38"/><use href="#mr" x="121.81" y="28.52"/><use href="#mr" x="122.72" y="27.06"/><use href="#mr" x="123.62" y="27.07"/><use href="#mr" x="124.53" y="27.57"/><use href="#mr" x="125.43" y="28.15"/><use href="#mr" x="126.34" y="26.86"/><use href="#mr" x="127.24" y="26.08"/><use href="#mr" x="128.15" y="28.16"/><use href="#mr" x="129.05" y="26.96"/><use href="#mr" x="129.96" y="28.43"/><use href="#mr" x="130.86" y="28.54"/><use href="#mr" x="131.77" y="27"/><use href="#mr" x="132.67" y="26.82"/><use href="#mr" x="133.58" y="26.93"/><use href="#mr" x="134.48" y="27.33"/><use href="#mr" x="135.38" y="27.3"/><use href="#mr" x="136.29" y="27.2"/><use href="#mr" x="137.19" y="27.38"/><use href="#mr" x="138.1" y="28.38"/><use href="#mr" x="139" y="27.4"/><use href="#mr" x="139.91" y="26.97"/><use href="#mr" x="140.81" y="27.73"/><use href="#mr" x="141.72" y="26.56"/><use href="#mr" x="142.62" y="26.49"/><use href="#mr" x="143.53" y="28.47"/><use href="#mr" x="144.43" y="27.67"/><use href="#mr" x="145.34" y="27.58"/><use href="#mr" x="146.24" y="26.03"/><use href="#mr" x="147.15" y="26.84"/><use href="#mr" x="148.05" y="27.54"/><use href="#mr" x="148.96" y="26.11"/><use href="#mr" x="149.86" y="27.49"/><use href="#mr" x="150.77" y="27.89"/><use href="#mr" x="151.67" y="26.34"/><use href="#mr" x="152.58" y="27.6"/><use href="#mr" x="153.48" y="27.46"/><use href="#mr" x="154.39" y="28.05"/><use href="#mr" x="155.29" y="27.25"/><use href="#mr" x="156.2" y="28.09"/><use href="#mr" x="157.1" y="28.39"/><use href="#mr" x="158" y="26.4"/><use href="#mr" x="158.91" y="26.01"/><use href="#mr" x="159.81" y="27.71"/><use href="#mr" x="160.72" y="28.97"/><use href="#mr" x="161.62" y="27.22"/><use href="#mr" x="162.53" y="27.38"/><use href="#mr" x="163.43" y="27.81"/><use href="#mr" x="164.34" y="27.13"/><use href="#mr" x="165.24" y="27.08"/><use href="#mr" x="166.15" y="26.92"/><use href="#mr" x="167.05" y="27.03"/><use href="#mr" x="167.96" y="27.7"/><use href="#mr" x="168.86" y="27"/><use href="#mr" x="169.77" y="27.02"/><use href="#mr" x="170.67" y="28.16"/><use href="#mr" x="171.58" y="26.26"/><use href="#mr" x="172.48" y="27.33"/><use href="#mr" x="173.39" y="28.05"/><use href="#mr" x="174.29" y="26.97"/><use href="#mr" x="175.2" y="26.42"/><use href="#mr" x="176.1" y="27.94"/><use href="#mr" x="177.01" y="26.65"/><use href="#mr" x="177.91" y="26.14"/><use href="#mr" x="178.82" y="26.7"/><use href="#mr" x="179.72" y="27.57"/><use href="#mr" x="180.62" y="26.03"/><use href="#mr" x="181.53" y="26.22"/><use href="#mr" x="182.43" y="26.24"/><use href="#mr" x="183.34" y="27.62"/><use href="#mr" x="184.24" y="26.73"/><use href="#mr" x="185.15" y="27.63"/><use href="#mr" x="186.05" y="25.76"/><use href="#mr" x="186.96" y="25.68"/><use href="#mr" x="187.86" y="26.47"/><use href="#mr" x="188.77" y="27.24"/><use href="#mr" x="189.67" y="26.08"/><use href="#mr" x="190.58" y="25.04"/><use href="#mr" x="191.48" y="24.39"/><use href="#mr" x="192.39" y="25.32"/><use href="#mr" x="193.29" y="24.5"/><use href="#mr" x="194.2" y="26.02"/><use href="#mr" x="195.1" y="26.44"/><use href="#mr" x="196.01" y="24.61"/><use href="#mr" x="196.91" y="24.41"/><use href="#mr" x="197.82" y="25.89"/><use href="#mr" x="198.72" y="25.8"/><use href="#mr" x="199.63" y="26.3"/><use href="#mr" x="200.53" y="25.15"/><use href="#mr" x="201.44" y="24.31"/><use href="#mr" x="202.34" y="24.67"/><use href="#mr" x="203.24" y="26.32"/><use href="#mr" x="204.15" y="25.33"/><use href="#mr" x="205.05" y="25.42"/><use href="#mr" x="205.96" y="25.78"/><use href="#mr" x="206.86" y="26.01"/><use href="#mr" x="207.77" y="26.16"/><use href="#mr" x="208.67" y="27.81"/><use href="#mr" x="209.58" y="26.13"/><use href="#mr" x="210.48" y="25.39"/><use href="#mr" x="211.39" y="28.04"/><use href="#mr" x="212.29" y="28.61"/><use href="#mr" x="213.2" y="29.15"/><use href="#mr" x="214.1" y="27.76"/><use href="#mr" x="215.01" y="28.97"/><use href="#mr" x="215.91" y="29.28"/><use href="#mr" x="216.82" y="27.39"/><use href="#mr" x="217.72" y="28.5"/><use href="#mr" x="218.63" y="29.12"/><use href="#mr" x="219.53" y="28.84"/><use href="#mr" x="220.44" y="28.42"/><use href="#mr" x="221.34" y="27.71"/><use href="#mr" x="222.25" y="27.74"/><use href="#mr" x="223.15" y="27.47"/><use href="#mr" x="224.06" y="26.98"/><use href="#mr" x="224.96" y="28.4"/><use href="#mr" x="225.86" y="27.91"/><use href="#mr" x="226.77" y="29.32"/><use href="#mr" x="227.67" y="27.46"/><use href="#mr" x="228.58" y="29.48"/><use href="#mr" x="229.48" y="29.37"/><use href="#mr" x="230.39" y="29.98"/><use href="#mr" x="231.29" y="30.03"/><use href="#mr" x="232.2" y="30.01"/><use href="#mr" x="233.1" y="29.03"/><use href="#mr" x="234.01" y="27.11"/><use href="#mr" x="234.91" y="28.7"/><use href="#mr" x="235.82" y="27.39"/><use href="#mr" x="236.72" y="27.38"/><use href="#mr" x="237.63" y="28.39"/><use href="#mr" x="238.53" y="28.19"/><use href="#mr" x="239.44" y="27.77"/><use href="#mr" x="240.34" y="29.14"/><use href="#mr" x="241.25" y="28.5"/><use href="#mr" x="242.15" y="27.52"/><use href="#mr" x="243.06" y="26.99"/><use href="#mr" x="243.96" y="28.61"/><use href="#mr" x="244.87" y="27.88"/><use href="#mr" x="245.77" y="28.57"/><use href="#mr" x="246.68" y="27.48"/><use href="#mr" x="247.58" y="26.75"/><use href="#mr" x="248.48" y="27.53"/><use href="#mr" x="249.39" y="28.53"/><use href="#mr" x="250.29" y="26.89"/><use href="#mr" x="251.2" y="28.27"/><use href="#mr" x="252.1" y="28.98"/><use href="#mr" x="253.01" y="28.81"/><use href="#mr" x="253.91" y="28.81"/><use href="#mr" x="254.82" y="26.43"/><use href="#mr" x="255.72" y="27.63"/><use href="#mr" x="256.63" y="28.6"/><use href="#mr" x="257.53" y="26.48"/><use href="#mr" x="258.44" y="26.59"/><use href="#mr" x="259.34" y="26.6"/><use href="#mr" x="260.25" y="27.36"/><use href="#mr" x="261.15" y="27.24"/><use href="#mr" x="262.06" y="27.36"/><use href="#mr" x="262.96" y="28.27"/><use href="#mr" x="263.87" y="26.26"/><use href="#mr" x="264.77" y="25.92"/><use href="#mr" x="265.68" y="26.05"/><use href="#mr" x="266.58" y="26.09"/><use href="#mr" x="267.49" y="25.96"/><use href="#mr" x="268.39" y="28.56"/><use href="#mr" x="269.3" y="28.88"/><use href="#mr" x="270.2" y="26.75"/><use href="#mr" x="271.1" y="27.44"/><use href="#mr" x="272.01" y="27.09"/><use href="#mr" x="272.91" y="27.01"/><use href="#mr" x="273.82" y="27.11"/><use href="#mr" x="274.72" y="28"/><use href="#mr" x="275.63" y="28.06"/><use href="#mr" x="276.53" y="27.42"/><use href="#mr" x="277.44" y="26.77"/><use href="#mr" x="278.34" y="27.01"/><use href="#mr" x="279.25" y="26.47"/><use href="#mr" x="280.15" y="27.59"/><use href="#mr" x="281.06" y="28.34"/><use href="#mr" x="281.96" y="27.55"/><use href="#mr" x="282.87" y="26.48"/><use href="#mr" x="283.77" y="26.5"/><use href="#mr" x="284.68" y="27.07"/><use href="#mr" x="285.58" y="27.88"/><use href="#mr" x="286.49" y="28.6"/><use href="#mr" x="287.39" y="27.62"/><use href="#mr" x="288.3" y="28.59"/><use href="#mr" x="289.2" y="28.32"/><use href="#mr" x="290.11" y="27.69"/><use href="#mr" x="291.01" y="27.37"/><use href="#mr" x="291.92" y="27.64"/><use href="#mr" x="292.82" y="28.31"/><use href="#mr" x="293.72" y="27.67"/><use href="#mr" x="294.63" y="28.31"/><use href="#mr" x="295.53" y="27.81"/><use href="#mr" x="296.44" y="27.08"/><use href="#mr" x="297.34" y="27.76"/><use href="#mr" x="298.25" y="28.41"/><use href="#mr" x="299.15" y="26.79"/><use href="#mr" x="300.06" y="27.43"/><use href="#mr" x="300.96" y="27.61"/><use href="#mr" x="301.87" y="29"/><use href="#mr" x="302.77" y="29.53"/><use href="#mr" x="303.68" y="28.05"/><use href="#mr" x="304.58" y="29.21"/><use href="#mr" x="305.49" y="29.21"/><use href="#mr" x="306.39" y="27.68"/><use href="#mr" x="307.3" y="27.89"/><use href="#mr" x="308.2" y="26.96"/><use href="#mr" x="309.11" y="28.72"/><use href="#mr" x="310.01" y="28.72"/><use href="#mr" x="310.92" y="29.36"/><use href="#mr" x="311.82" y="29.23"/><use href="#mr" x="312.73" y="28.82"/><use href="#mr" x="313.63" y="28.89"/><use href="#mr" x="314.54" y="28.4"/><use href="#mr" x="315.44" y="26.92"/><use href="#mr" x="316.34" y="27.93"/><use href="#mr" x="317.25" y="26.47"/><use href="#mr" x="318.15" y="26.48"/><use href="#mr" x="319.06" y="28.29"/><use href="#mr" x="319.96" y="26.59"/><use href="#mr" x="320.87" y="26.28"/><use href="#mr" x="321.77" y="26.2"/><use href="#mr" x="322.68" y="28.42"/><use href="#mr" x="323.58" y="26.92"/><use href="#mr" x="324.49" y="26.07"/><use href="#mr" x="325.39" y="28.21"/><use href="#mr" x="326.3" y="26.64"/><use href="#mr" x="327.2" y="28.32"/><use href="#mr" x="328.11" y="28.23"/><use href="#mr" x="329.01" y="28.66"/><use href="#mr" x="329.92" y="29.09"/><use href="#mr" x="330.82" y="28.09"/><use href="#mr" x="331.73" y="28.46"/><use href="#mr" x="332.63" y="26.33"/><use href="#mr" x="333.54" y="27.9"/><use href="#mr" x="334.44" y="27.53"/><use href="#mr" x="335.35" y="28.01"/><use href="#mr" x="336.25" y="26.34"/><use href="#mr" x="337.16" y="27.77"/><use href="#mr" x="338.06" y="28.64"/><use href="#mr" x="338.96" y="26.3"/><use href="#mr" x="339.87" y="26.45"/><use href="#mr" x="340.77" y="27.15"/><use href="#mr" x="341.68" y="28.07"/><use href="#mr" x="342.58" y="26.56"/><use href="#mr" x="343.49" y="25.95"/><use href="#mr" x="344.39" y="25.93"/><use href="#mr" x="345.3" y="26.92"/><use href="#mr" x="346.2" y="27.48"/><use href="#mr" x="347.11" y="26.49"/><use href="#mr" x="348.01" y="26.08"/><use href="#mr" x="348.92" y="25.98"/><use href="#mr" x="349.82" y="25.73"/><use href="#mr" x="350.73" y="25.79"/><use href="#mr" x="351.63" y="24.76"/><use href="#mr" x="352.54" y="25.64"/><use href="#mr" x="353.44" y="27.19"/><use href="#mr" x="354.35" y="25.91"/><use href="#mr" x="355.25" y="26.54"/><use href="#mr" x="356.16" y="25"/><use href="#mr" x="357.06" y="26.17"/><use href="#mr" x="357.97" y="26.68"/><use href="#mr" x="358.87" y="26.6"/><use href="#mr" x="359.78" y="26.18"/><use href="#mr" x="360.68" y="26.03"/><use href="#mr" x="361.58" y="26.52"/><use href="#mr" x="362.49" y="27.44"/><use href="#mr" x="363.39" y="25.57"/><use href="#mr" x="364.3" y="25.02"/><use href="#mr" x="365.2" y="26.84"/><use href="#mr" x="366.11" y="27.85"/><use href="#mr" x="367.01" y="27.01"/><use href="#mr" x="367.92" y="26.64"/><use href="#mr" x="368.82" y="27.39"/><use href="#mr" x="369.73" y="26.07"/><use href="#mr" x="370.63" y="26.01"/><use href="#mr" x="371.54" y="25.81"/><use href="#mr" x="372.44" y="26.88"/><use href="#mr" x="373.35" y="26.34"/><use href="#mr" x="374.25" y="25.92"/><use href="#mr" x="375.16" y="27.09"/><use href="#mr" x="376.06" y="28.07"/><use href="#mr" x="376.97" y="26.34"/><use href="#mr" x="377.87" y="27.01"/><use href="#mr" x="378.78" y="26.25"/><use href="#mr" x="379.68" y="27.26"/><use href="#mr" x="380.59" y="26.65"/><use href="#mr" x="381.49" y="25.52"/><use href="#mr" x="382.4" y="25.04"/><use href="#mr" x="383.3" y="24.32"/><use href="#mr" x="384.2" y="25.44"/><use href="#mr" x="385.11" y="25.45"/><use href="#mr" x="386.01" y="24.88"/><use href="#mr" x="386.92" y="25.36"/><use href="#mr" x="387.82" y="25.46"/><use href="#mr" x="388.73" y="26.91"/><use href="#mr" x="389.63" y="25.56"/><use href="#mr" x="390.54" y="27.82"/><use href="#mr" x="391.44" y="27.03"/><use href="#mr" x="392.35" y="27.3"/><use href="#mr" x="393.25" y="27.11"/><use href="#mr" x="394.16" y="28.22"/><use href="#mr" x="395.06" y="28.55"/><use href="#mr" x="395.97" y="27.91"/><use href="#mr" x="396.87" y="27.56"/><use href="#mr" x="397.78" y="28.16"/><use href="#mr" x="398.68" y="28.7"/><use href="#mr" x="399.59" y="27.51"/><use href="#mr" x="400.49" y="28.18"/><use href="#mr" x="401.4" y="29"/><use href="#mr" x="402.3" y="27.78"/><use href="#mr" x="403.21" y="26.79"/><use href="#mr" x="404.11" y="26.55"/><use href="#mr" x="405.02" y="27.89"/><use href="#mr" x="405.92" y="28.11"/><use href="#mr" x="406.82" y="28.98"/><use href="#mr" x="407.73" y="28.9"/><use href="#mr" x="408.63" y="27.1"/><use href="#mr" x="409.54" y="26.5"/><use href="#mr" x="410.44" y="26.55"/><use href="#mr" x="411.35" y="26.36"/><use href="#mr" x="412.25" y="27.82"/><use href="#mr" x="413.16" y="28.64"/><use href="#mr" x="414.06" y="28.98"/><use href="#mr" x="414.97" y="27.2"/><use href="#mr" x="415.87" y="28.54"/><use href="#mr" x="416.78" y="27.28"/><use href="#mr" x="417.68" y="27.29"/><use href="#mr" x="418.59" y="28.18"/><use href="#mr" x="419.49" y="26.55"/><use href="#mr" x="420.4" y="26.15"/><use href="#mr" x="421.3" y="28.19"/><use href="#mr" x="422.21" y="27.09"/><use href="#mr" x="423.11" y="26.97"/><use href="#mr" x="424.02" y="27.53"/><use href="#mr" x="424.92" y="27.89"/><use href="#mr" x="425.83" y="25.98"/><use href="#mr" x="426.73" y="26.39"/><use href="#mr" x="427.64" y="26.71"/><use href="#mr" x="428.54" y="26.87"/><use href="#mr" x="429.44" y="26.04"/><use href="#mr" x="430.35" y="26.86"/><use href="#mr" x="431.25" y="28.08"/><use href="#mr" x="432.16" y="26.69"/><use href="#mr" x="433.06" y="26.74"/><use href="#mr" x="433.97" y="25.49"/><use href="#mr" x="434.87" y="25.6"/><use href="#mr" x="435.78" y="26.75"/><use href="#mr" x="436.68" y="25.44"/><use href="#mr" x="437.59" y="27.36"/><use href="#mr" x="438.49" y="27.92"/><use href="#mr" x="439.4" y="25.72"/><use href="#mr" x="440.3" y="27.63"/><use href="#mr" x="441.21" y="26.48"/><use href="#mr" x="442.11" y="27.37"/><use href="#mr" x="443.02" y="27.57"/><use href="#mr" x="443.92" y="26.3"/><use href="#mr" x="444.83" y="27.11"/><use href="#mr" x="445.73" y="27.28"/><use href="#mr" x="446.64" y="27.78"/><use href="#mr" x="447.54" y="26.36"/><use href="#mr" x="448.45" y="27.44"/><use href="#mr" x="449.35" y="28.33"/><use href="#mr" x="450.26" y="27.73"/><use href="#mr" x="451.16" y="27.2"/><use href="#mr" x="452.06" y="25.85"/><use href="#mr" x="452.97" y="26.62"/><use href="#mr" x="453.87" y="26.4"/><use href="#mr" x="454.78" y="27.4"/><use href="#mr" x="455.68" y="27.52"/><use href="#mr" x="456.59" y="27.2"/><use href="#mr" x="457.49" y="25.98"/><use href="#mr" x="458.4" y="26.98"/><use href="#mr" x="459.3" y="27.16"/><use href="#mr" x="460.21" y="25.86"/><use href="#mr" x="461.11" y="27.57"/><use href="#mr" x="462.02" y="27.28"/><use href="#mr" x="462.92" y="25.64"/><use href="#mr" x="463.83" y="27.56"/><use href="#mr" x="464.73" y="25.73"/><use href="#mr" x="465.64" y="25.82"/><use href="#mr" x="466.54" y="26.98"/><use href="#mr" x="467.45" y="26.98"/><use href="#mr" x="468.35" y="26.96"/><use href="#mr" x="469.26" y="27.35"/><use href="#mr" x="470.16" y="27.03"/><use href="#mr" x="471.07" y="26.67"/><use href="#mr" x="471.97" y="26.31"/><use href="#mr" x="472.88" y="26.01"/><use href="#mr" x="473.78" y="27.89"/><use href="#mr" x="474.68" y="28.5"/><use href="#mr" x="475.59" y="28.01"/><use href="#mr" x="476.49" y="28.42"/><use href="#mr" x="477.4" y="27.34"/><use href="#mr" x="478.3" y="26.71"/><use href="#mr" x="479.21" y="26.79"/><use href="#mr" x="480.11" y="28.11"/><use href="#mr" x="481.02" y="25.93"/><use href="#mr" x="481.92" y="26.61"/><use href="#mr" x="482.83" y="25.94"/><use href="#mr" x="483.73" y="27.21"/><use href="#mr" x="484.64" y="26.27"/><use href="#mr" x="485.54" y="25.95"/><use href="#mr" x="486.45" y="26.08"/><use href="#mr" x="487.35" y="26.54"/><use href="#mr" x="488.26" y="27.35"/><use href="#mr" x="489.16" y="26.38"/><use href="#mr" x="490.07" y="27.63"/><use href="#mr" x="490.97" y="25.89"/><use href="#mr" x="491.88" y="26"/><use href="#mr" x="492.78" y="25.63"/><use href="#mr" x="493.69" y="25.68"/><use href="#mr" x="494.59" y="27.75"/><use href="#mr" x="495.5" y="28.26"/><use href="#mr" x="496.4" y="26.96"/><polyline fill="none" stroke="#a52a2a" stroke-width="1" points="44,319.66 44.9,318.42 45.81,317.02 46.71,315.46 47.62,313.77 48.52,311.86 49.43,309.75 50.33,307.58 51.24,305.44 52.14,303.31 53.05,301.15 53.95,298.99 54.86,296.84 55.76,294.71 56.67,292.6 57.57,290.49 58.48,288.39 59.38,286.3 60.29,284.19 61.19,282.08 62.1,279.95 63,277.8 63.91,275.55 64.81,273.26 65.72,270.97 66.62,268.74 67.52,266.61 68.43,264.65 69.33,262.87 70.24,261.19 71.14,259.6 72.05,258.08 72.95,256.62 73.86,255.22 74.76,253.85 75.67,252.52 76.57,251.22 77.48,249.95 78.38,248.71 79.29,247.5 80.19,246.32 81.1,245.15 82,244.01 82.91,242.88 83.81,241.76 84.72,240.66 85.62,239.56 86.53,238.47 87.43,237.38 88.34,236.3 89.24,235.23 90.14,234.17 91.05,233.12 91.95,232.09 92.86,231.06 93.76,230.04 94.67,229.04 95.57,228.04 96.48,227.05 97.38,226.08 98.29,225.11 99.19,224.15 100.1,223.2 101,222.25 101.91,221.31 102.81,220.38 103.72,219.46 104.62,218.54 105.53,217.63 106.43,216.74 107.34,215.85 108.24,214.97 109.15,214.1 110.05,213.25 110.96,212.41 111.86,211.58 112.76,210.76 113.67,209.96 114.57,209.16 115.48,208.37 116.38,207.59 117.29,206.81 118.19,206.05 119.1,205.29 120,204.54 120.91,203.8 121.81,203.07 122.72,202.34 123.62,201.63 124.53,200.92 125.43,200.23 126.34,199.54 127.24,198.86 128.15,198.19 129.05,197.53 129.96,196.88 130.86,196.24 131.77,195.61 132.67,194.98 133.58,194.36 134.48,193.75 135.38,193.14 136.29,192.54 137.19,191.95 138.1,191.36 139,190.78 139.91,190.2 140.81,189.62 141.72,189.05 142.62,188.48 143.53,187.91 144.43,187.35 145.34,186.79 146.24,186.24 147.15,185.69 148.05,185.15 148.96,184.61 149.86,184.08 150.77,183.56 151.67,183.05 152.58,182.55 153.48,182.04 154.39,181.54 155.29,181.04 156.2,180.54 157.1,180.04 158,179.55 158.91,179.05 159.81,178.55 160.72,178.05 161.62,177.54 162.53,177.04 163.43,176.53 164.34,176.02 165.24,175.5 166.15,174.98 167.05,174.46 167.96,173.94 168.86,173.42 169.77,172.89 170.67,172.36 171.58,171.83 172.48,171.3 173.39,170.77 174.29,170.24 175.2,169.71 176.1,169.19 177.01,168.66 177.91,168.13 178.82,167.61 179.72,167.08 180.62,166.56 181.53,166.04 182.43,165.53 183.34,165.02 184.24,164.51 185.15,164 186.05,163.5 186.96,163 187.86,162.51 188.77,162.03 189.67,161.54 190.58,161.06 191.48,160.57 192.39,160.09 193.29,159.6 194.2,159.12 195.1,158.64 196.01,158.16 196.91,157.69 197.82,157.22 198.72,156.75 199.63,156.28 200.53,155.81 201.44,155.35 202.34,154.89 203.24,154.43 204.15,153.98 205.05,153.53 205.96,153.08 206.86,152.64 207.77,152.2 208.67,151.76 209.58,151.33 210.48,150.9 211.39,150.47 212.29,150.05 213.2,149.64 214.1,149.23 215.01,148.82 215.91,148.42 216.82,148.02 217.72,147.62 218.63,147.22 219.53,146.82 220.44,146.43 221.34,146.04 222.25,145.65 223.15,145.27 224.06,144.88 224.96,144.5 225.86,144.13 226.77,143.75 227.67,143.38 228.58,143.02 229.48,142.65 230.39,142.29 231.29,141.94 232.2,141.59 233.1,141.24 234.01,140.9 234.91,140.56 235.82,140.23 236.72,139.91 237.63,139.58 238.53,139.27 239.44,138.96 240.34,138.65 241.25,138.36 242.15,138.07 243.06,137.79 243.96,137.52 244.87,137.25 245.77,136.99 246.68,136.73 247.58,136.48 248.48,136.23 249.39,135.98 250.29,135.73 251.2,135.47 252.1,135.21 253.01,134.95 253.91,134.68 254.82,134.41 255.72,134.14 256.63,133.86 257.53,133.57 258.44,133.28 259.34,132.99 260.25,132.7 261.15,132.41 262.06,132.11 262.96,131.81 263.87,131.52 264.77,131.22 265.68,130.92 266.58,130.61 267.49,130.31 268.39,130.01 269.3,129.71 270.2,129.4 271.1,129.1 272.01,128.8 272.91,128.5 273.82,128.19 274.72,127.89 275.63,127.59 276.53,127.3 277.44,127 278.34,126.71 279.25,126.41 280.15,126.12 281.06,125.83 281.96,125.55 282.87,125.26 283.77,124.97 284.68,124.69 285.58,124.4 286.49,124.12 287.39,123.84 288.3,123.55 289.2,123.27 290.11,122.99 291.01,122.71 291.92,122.43 292.82,122.15 293.72,121.87 294.63,121.59 295.53,121.31 296.44,121.04 297.34,120.76 298.25,120.49 299.15,120.21 300.06,119.94 300.96,119.67 301.87,119.4 302.77,119.14 303.68,118.88 304.58,118.61 305.49,118.35 306.39,118.09 307.3,117.82 308.2,117.56 309.11,117.3 310.01,117.04 310.92,116.78 311.82,116.51 312.73,116.25 313.63,115.99 314.54,115.73 315.44,115.47 316.34,115.22 317.25,114.96 318.15,114.7 319.06,114.44 319.96,114.19 320.87,113.94 321.77,113.68 322.68,113.43 323.58,113.18 324.49,112.93 325.39,112.69 326.3,112.44 327.2,112.2 328.11,111.96 329.01,111.72 329.92,111.48 330.82,111.25 331.73,111.01 332.63,110.78 333.54,110.55 334.44,110.33 335.35,110.1 336.25,109.88 337.16,109.65 338.06,109.43 338.96,109.21 339.87,109 340.77,108.78 341.68,108.56 342.58,108.35 343.49,108.13 344.39,107.92 345.3,107.71 346.2,107.49 347.11,107.28 348.01,107.07 348.92,106.86 349.82,106.65 350.73,106.44 351.63,106.23 352.54,106.01 353.44,105.8 354.35,105.59 355.25,105.38 356.16,105.16 357.06,104.95 357.97,104.73 358.87,104.52 359.78,104.3 360.68,104.08 361.58,103.86 362.49,103.64 363.39,103.42 364.3,103.2 365.2,102.98 366.11,102.77 367.01,102.55 367.92,102.33 368.82,102.11 369.73,101.89 370.63,101.68 371.54,101.46 372.44,101.25 373.35,101.04 374.25,100.83 375.16,100.62 376.06,100.41 376.97,100.21 377.87,100 378.78,99.8 379.68,99.61 380.59,99.41 381.49,99.22 382.4,99.03 383.3,98.84 384.2,98.66 385.11,98.48 386.01,98.3 386.92,98.12 387.82,97.95 388.73,97.78 389.63,97.6 390.54,97.44 391.44,97.27 392.35,97.1 393.25,96.94 394.16,96.77 395.06,96.61 395.97,96.45 396.87,96.29 397.78,96.13 398.68,95.98 399.59,95.82 400.49,95.66 401.4,95.51 402.3,95.35 403.21,95.2 404.11,95.05 405.02,94.89 405.92,94.74 406.82,94.59 407.73,94.43 408.63,94.28 409.54,94.13 410.44,93.98 411.35,93.82 412.25,93.67 413.16,93.52 414.06,93.36 414.97,93.21 415.87,93.05 416.78,92.9 417.68,92.74 418.59,92.59 419.49,92.43 420.4,92.28 421.3,92.13 422.21,91.97 423.11,91.82 424.02,91.67 424.92,91.52 425.83,91.36 426.73,91.21 427.64,91.06 428.54,90.91 429.44,90.76 430.35,90.61 431.25,90.46 432.16,90.31 433.06,90.16 433.97,90.01 434.87,89.86 435.78,89.71 436.68,89.56 437.59,89.41 438.49,89.26 439.4,89.12 440.3,88.97 441.21,88.82 442.11,88.67 443.02,88.52 443.92,88.38 444.83,88.23 445.73,88.08 446.64,87.93 447.54,87.79 448.45,87.64 449.35,87.49 450.26,87.34 451.16,87.2 452.06,87.05 452.97,86.9 453.87,86.76 454.78,86.61 455.68,86.46 456.59,86.32 457.49,86.17 458.4,86.03 459.3,85.88 460.21,85.74 461.11,85.59 462.02,85.45 462.92,85.31 463.83,85.16 464.73,85.02 465.64,84.88 466.54,84.74 467.45,84.6 468.35,84.45 469.26,84.31 470.16,84.18 471.07,84.04 471.97,83.9 472.88,83.76 473.78,83.62 474.68,83.48 475.59,83.35 476.49,83.21 477.4,83.07 478.3,82.94 479.21,82.8 480.11,82.66 481.02,82.53 481.92,82.39 482.83,82.26 483.73,82.13 484.64,81.99 485.54,81.86 486.45,81.72 487.35,81.59 488.26,81.46 489.16,81.33 490.07,81.2 490.97,81.06 491.88,80.93 492.78,80.8 493.69,80.67 494.59,80.54 495.5,80.41 496.4,80.29"/><polyline fill="none" stroke="#000000" stroke-width="1" points="44,319.07 44.9,318.94 45.81,318.79 46.71,318.64 47.62,318.47 48.52,318.3 49.43,318.12 50.33,317.93 51.24,317.74 52.14,317.53 53.05,317.32 53.95,317.09 54.86,316.84 55.76,316.57 56.67,316.27 57.57,315.92 58.48,315.53 59.38,315.12 60.29,314.68 61.19,314.24 62.1,313.8 63,313.36 63.91,312.92 64.81,312.48 65.72,312.03 66.62,311.58 67.52,311.12 68.43,310.66 69.33,310.18 70.24,309.7 71.14,309.21 72.05,308.71 72.95,308.2 73.86,307.68 74.76,307.14 75.67,306.59 76.57,306.03 77.48,305.44 78.38,304.84 79.29,304.22 80.19,303.59 81.1,302.96 82,302.31 82.91,301.66 83.81,301 84.72,300.34 85.62,299.67 86.53,299.01 87.43,298.35 88.34,297.69 89.24,297.01 90.14,296.33 91.05,295.63 91.95,294.93 92.86,294.23 93.76,293.53 94.67,292.82 95.57,292.12 96.48,291.42 97.38,290.73 98.29,290.05 99.19,289.39 100.1,288.73 101,288.08 101.91,287.44 102.81,286.8 103.72,286.16 104.62,285.52 105.53,284.9 106.43,284.27 107.34,283.66 108.24,283.05 109.15,282.45 110.05,281.86 110.96,281.27 111.86,280.7 112.76,280.14 113.67,279.58 114.57,279.03 115.48,278.49 116.38,277.95 117.29,277.42 118.19,276.9 119.1,276.38 120,275.87 120.91,275.36 121.81,274.85 122.72,274.35 123.62,273.86 124.53,273.36 125.43,272.87 126.34,272.39 127.24,271.9 128.15,271.42 129.05,270.94 129.96,270.46 130.86,269.99 131.77,269.52 132.67,269.05 133.58,268.58 134.48,268.12 135.38,267.66 136.29,267.21 137.19,266.76 138.1,266.31 139,265.87 139.91,265.44 140.81,265.01 141.72,264.59 142.62,264.17 143.53,263.76 144.43,263.36 145.34,262.95 146.24,262.56 147.15,262.16 148.05,261.77 148.96,261.39 149.86,261 150.77,260.63 151.67,260.25 152.58,259.88 153.48,259.52 154.39,259.15 155.29,258.8 156.2,258.44 157.1,258.09 158,257.75 158.91,257.41 159.81,257.07 160.72,256.74 161.62,256.41 162.53,256.09 163.43,255.77 164.34,255.46 165.24,255.15 166.15,254.85 167.05,254.55 167.96,254.25 168.86,253.95 169.77,253.66 170.67,253.36 171.58,253.07 172.48,252.78 173.39,252.49 174.29,252.2 175.2,251.91 176.1,251.62 177.01,251.32 177.91,251.03 178.82,250.73 179.72,250.44 180.62,250.14 181.53,249.85 182.43,249.56 183.34,249.26 184.24,248.97 185.15,248.68 186.05,248.39 186.96,248.1 187.86,247.81 188.77,247.52 189.67,247.23 190.58,246.94 191.48,246.65 192.39,246.36 193.29,246.07 194.2,245.78 195.1,245.5 196.01,245.21 196.91,244.92 197.82,244.64 198.72,244.35 199.63,244.06 200.53,243.78 201.44,243.49 202.34,243.21 203.24,242.92 204.15,242.64 205.05,242.35 205.96,242.07 206.86,241.78 207.77,241.5 208.67,241.21 209.58,240.93 210.48,240.64 211.39,240.36 212.29,240.07 213.2,239.79 214.1,239.51 215.01,239.22 215.91,238.94 216.82,238.66 217.72,238.38 218.63,238.1 219.53,237.82 220.44,237.54 221.34,237.26 222.25,236.99 223.15,236.71 224.06,236.44 224.96,236.16 225.86,235.89 226.77,235.62 227.67,235.35 228.58,235.08 229.48,234.81 230.39,234.54 231.29,234.28 232.2,234.01 233.1,233.75 234.01,233.48 234.91,233.22 235.82,232.96 236.72,232.69 237.63,232.43 238.53,232.17 239.44,231.91 240.34,231.65 241.25,231.39 242.15,231.14 243.06,230.88 243.96,230.62 244.87,230.37 245.77,230.11 246.68,229.86 247.58,229.6 248.48,229.35 249.39,229.09 250.29,228.84 251.2,228.59 252.1,228.33 253.01,228.08 253.91,227.83 254.82,227.58 255.72,227.33 256.63,227.08 257.53,226.83 258.44,226.58 259.34,226.33 260.25,226.08 261.15,225.83 262.06,225.58 262.96,225.33 263.87,225.09 264.77,224.84 265.68,224.59 266.58,224.35 267.49,224.1 268.39,223.86 269.3,223.61 270.2,223.37 271.1,223.13 272.01,222.89 272.91,222.64 273.82,222.4 274.72,222.16 275.63,221.92 276.53,221.68 277.44,221.44 278.34,221.2 279.25,220.96 280.15,220.72 281.06,220.48 281.96,220.25 282.87,220.01 283.77,219.77 284.68,219.52 285.58,219.28 286.49,219.04 287.39,218.8 288.3,218.56 289.2,218.31 290.11,218.07 291.01,217.83 291.92,217.59 292.82,217.35 293.72,217.11 294.63,216.88 295.53,216.64 296.44,216.41 297.34,216.18 298.25,215.95 299.15,215.72 300.06,215.5 300.96,215.27 301.87,215.06 302.77,214.84 303.68,214.63 304.58,214.42 305.49,214.21 306.39,214.01 307.3,213.81 308.2,213.62 309.11,213.42 310.01,213.23 310.92,213.04 311.82,212.86 312.73,212.67 313.63,212.49 314.54,212.31 315.44,212.13 316.34,211.95 317.25,211.77 318.15,211.6 319.06,211.42 319.96,211.25 320.87,211.08 321.77,210.91 322.68,210.74 323.58,210.57 324.49,210.4 325.39,210.23 326.3,210.06 327.2,209.9 328.11,209.73 329.01,209.56 329.92,209.4 330.82,209.23 331.73,209.07 332.63,208.9 333.54,208.74 334.44,208.58 335.35,208.42 336.25,208.26 337.16,208.1 338.06,207.94 338.96,207.78 339.87,207.63 340.77,207.47 341.68,207.32 342.58,207.16 343.49,207.01 344.39,206.85 345.3,206.7 346.2,206.55 347.11,206.4 348.01,206.24 348.92,206.09 349.82,205.94 350.73,205.79 351.63,205.64 352.54,205.48 353.44,205.33 354.35,205.18 355.25,205.03 356.16,204.87 357.06,204.72 357.97,204.57 358.87,204.42 359.78,204.26 360.68,204.11 361.58,203.96 362.49,203.81 363.39,203.65 364.3,203.5 365.2,203.35 366.11,203.2 367.01,203.05 367.92,202.9 368.82,202.75 369.73,202.59 370.63,202.44 371.54,202.29 372.44,202.14 373.35,201.99 374.25,201.84 375.16,201.69 376.06,201.55 376.97,201.4 377.87,201.25 378.78,201.1 379.68,200.95 380.59,200.8 381.49,200.66 382.4,200.51 383.3,200.36 384.2,200.22 385.11,200.07 386.01,199.92 386.92,199.78 387.82,199.63 388.73,199.48 389.63,199.33 390.54,199.19 391.44,199.04 392.35,198.89 393.25,198.75 394.16,198.6 395.06,198.45 395.97,198.31 396.87,198.16 397.78,198.02 398.68,197.87 399.59,197.73 400.49,197.58 401.4,197.44 402.3,197.3 403.21,197.16 404.11,197.02 405.02,196.88 405.92,196.75 406.82,196.61 407.73,196.47 408.63,196.34 409.54,196.21 410.44,196.08 411.35,195.95 412.25,195.82 413.16,195.7 414.06,195.58 414.97,195.45 415.87,195.34 416.78,195.22 417.68,195.1 418.59,194.98 419.49,194.87 420.4,194.75 421.3,194.64 422.21,194.53 423.11,194.41 424.02,194.3 424.92,194.19 425.83,194.08 426.73,193.96 427.64,193.85 428.54,193.73 429.44,193.62 430.35,193.5 431.25,193.39 432.16,193.27 433.06,193.15 433.97,193.03 434.87,192.91 435.78,192.78 436.68,192.65 437.59,192.53 438.49,192.4 439.4,192.27 440.3,192.13 441.21,192 442.11,191.86 443.02,191.73 443.92,191.59 444.83,191.45 445.73,191.32 446.64,191.18 447.54,191.04 448.45,190.9 449.35,190.76 450.26,190.62 451.16,190.48 452.06,190.34 452.97,190.2 453.87,190.06 454.78,189.93 455.68,189.79 456.59,189.65 457.49,189.52 458.4,189.38 459.3,189.25 460.21,189.12 461.11,188.98 462.02,188.85 462.92,188.72 463.83,188.59 464.73,188.46 465.64,188.33 466.54,188.2 467.45,188.07 468.35,187.94 469.26,187.82 470.16,187.69 471.07,187.56 471.97,187.43 472.88,187.3 473.78,187.18 474.68,187.05 475.59,186.92 476.49,186.79 477.4,186.67 478.3,186.54 479.21,186.42 480.11,186.29 481.02,186.16 481.92,186.04 482.83,185.91 483.73,185.79 484.64,185.67 485.54,185.54 486.45,185.42 487.35,185.3 488.26,185.17 489.16,185.05 490.07,184.93 490.97,184.81 491.88,184.68 492.78,184.56 493.69,184.44 494.59,184.32 495.5,184.2 496.4,184.08"/></g><rect x="44.0" y="10.0" width="452.4" height="309.3" fill="none" stroke="#000" stroke-width="1"/><path d="M450.3,222.1H487.8" stroke="#0000ff" stroke-width="1" fill="none"/><use href="#mb" x="469" y="222.1"/><path d="M450.3,235.97H487.8" stroke="#ffc0c0" stroke-width="1" fill="none"/><use href="#mp" x="469" y="235.97"/><path d="M450.3,249.84H487.8" stroke="#00ff00" stroke-width="1" fill="none"/><use href="#mg" x="469" y="249.84"/><path d="M450.3,263.71H487.8" stroke="#ffff00" stroke-width="1" fill="none"/><use href="#my" x="469" y="263.71"/><path d="M450.3,277.58H487.8" stroke="#ff0000" stroke-width="1" fill="none"/><use href="#mr" x="469" y="277.58"/><path d="M450.3,291.45H487.8" stroke="#a52a2a" stroke-width="1" fill="none"/><path d="M450.3,305.32H487.8" stroke="#000" stroke-width="1" fill="none"/><g font-family="Liberation Sans, sans-serif" fill="#000" stroke="#000" stroke-width="0.2" style="white-space:pre"><text x="441.6" y="225.6" text-anchor="end" font-size="13.9">SLHMC: <tspan font-size="12.8" stroke="none" letter-spacing="-0.1">Δ</tspan>t<tspan font-size="11.2" dy="3.4">DFT</tspan><tspan dy="-3.4"> =   5fs</tspan></text><text x="441.6" y="239.47" text-anchor="end" font-size="13.9">SLHMC: <tspan font-size="12.8" stroke="none" letter-spacing="-0.1">Δ</tspan>t<tspan font-size="11.2" dy="3.4">DFT</tspan><tspan dy="-3.4"> = 12.5fs</tspan></text><text x="441.6" y="253.34" text-anchor="end" font-size="13.9">SLHMC: <tspan font-size="12.8" stroke="none" letter-spacing="-0.1">Δ</tspan>t<tspan font-size="11.2" dy="3.4">DFT</tspan><tspan dy="-3.4"> = 25fs</tspan></text><text x="441.6" y="267.21" text-anchor="end" font-size="13.9">SLHMC: <tspan font-size="12.8" stroke="none" letter-spacing="-0.1">Δ</tspan>t<tspan font-size="11.2" dy="3.4">DFT</tspan><tspan dy="-3.4"> =  50fs</tspan></text><text x="441.6" y="281.08" text-anchor="end" font-size="13.9">SLHMC: <tspan font-size="12.8" stroke="none" letter-spacing="-0.1">Δ</tspan>t<tspan font-size="11.2" dy="3.4">DFT</tspan><tspan dy="-3.4"> = 250fs</tspan></text><text x="441.6" y="294.95" text-anchor="end" font-size="13.9">DFT−MD: <tspan font-size="12.8" stroke="none" letter-spacing="-0.1">Δ</tspan>t =   1fs</text><text x="441.6" y="308.82" text-anchor="end" font-size="13.9">DFT−MD: <tspan font-size="12.8" stroke="none" letter-spacing="-0.1">Δ</tspan>t = 0.25fs</text><text x="38.1" y="325.35" text-anchor="end" font-size="17">0</text><text x="38.1" y="286.69" text-anchor="end" font-size="17">1</text><text x="38.1" y="248.03" text-anchor="end" font-size="17">2</text><text x="38.1" y="209.36" text-anchor="end" font-size="17">3</text><text x="38.1" y="170.7" text-anchor="end" font-size="17">4</text><text x="38.1" y="132.04" text-anchor="end" font-size="17">5</text><text x="38.1" y="93.37" text-anchor="end" font-size="17">6</text><text x="38.1" y="54.71" text-anchor="end" font-size="17">7</text><text x="38.1" y="16.05" text-anchor="end" font-size="17">8</text><text x="41.2" y="335.2" font-size="17">0</text><text x="122.88" y="335.2" font-size="17">100</text><text x="213.36" y="335.2" font-size="17">200</text><text x="303.84" y="335.2" font-size="17">300</text><text x="394.32" y="335.2" font-size="17">400</text><text x="484.8" y="335.2" font-size="17">500</text><text x="197.6" y="349.6" font-size="18">Num. of DFT calc.</text><text transform="translate(25.1,228.2) rotate(-90)" font-size="18">MSD [×10<tspan font-size="14.4" dy="-9.4">−3</tspan><tspan dy="9.4"> A</tspan><tspan font-size="14.4" dy="-9.4" dx="0.5">2</tspan><tspan dy="9.4">]</tspan></text><circle cx="9.4" cy="120.3" r="1.1" fill="none" stroke="#000" stroke-width="0.8"/></g></svg>
</body></html>
